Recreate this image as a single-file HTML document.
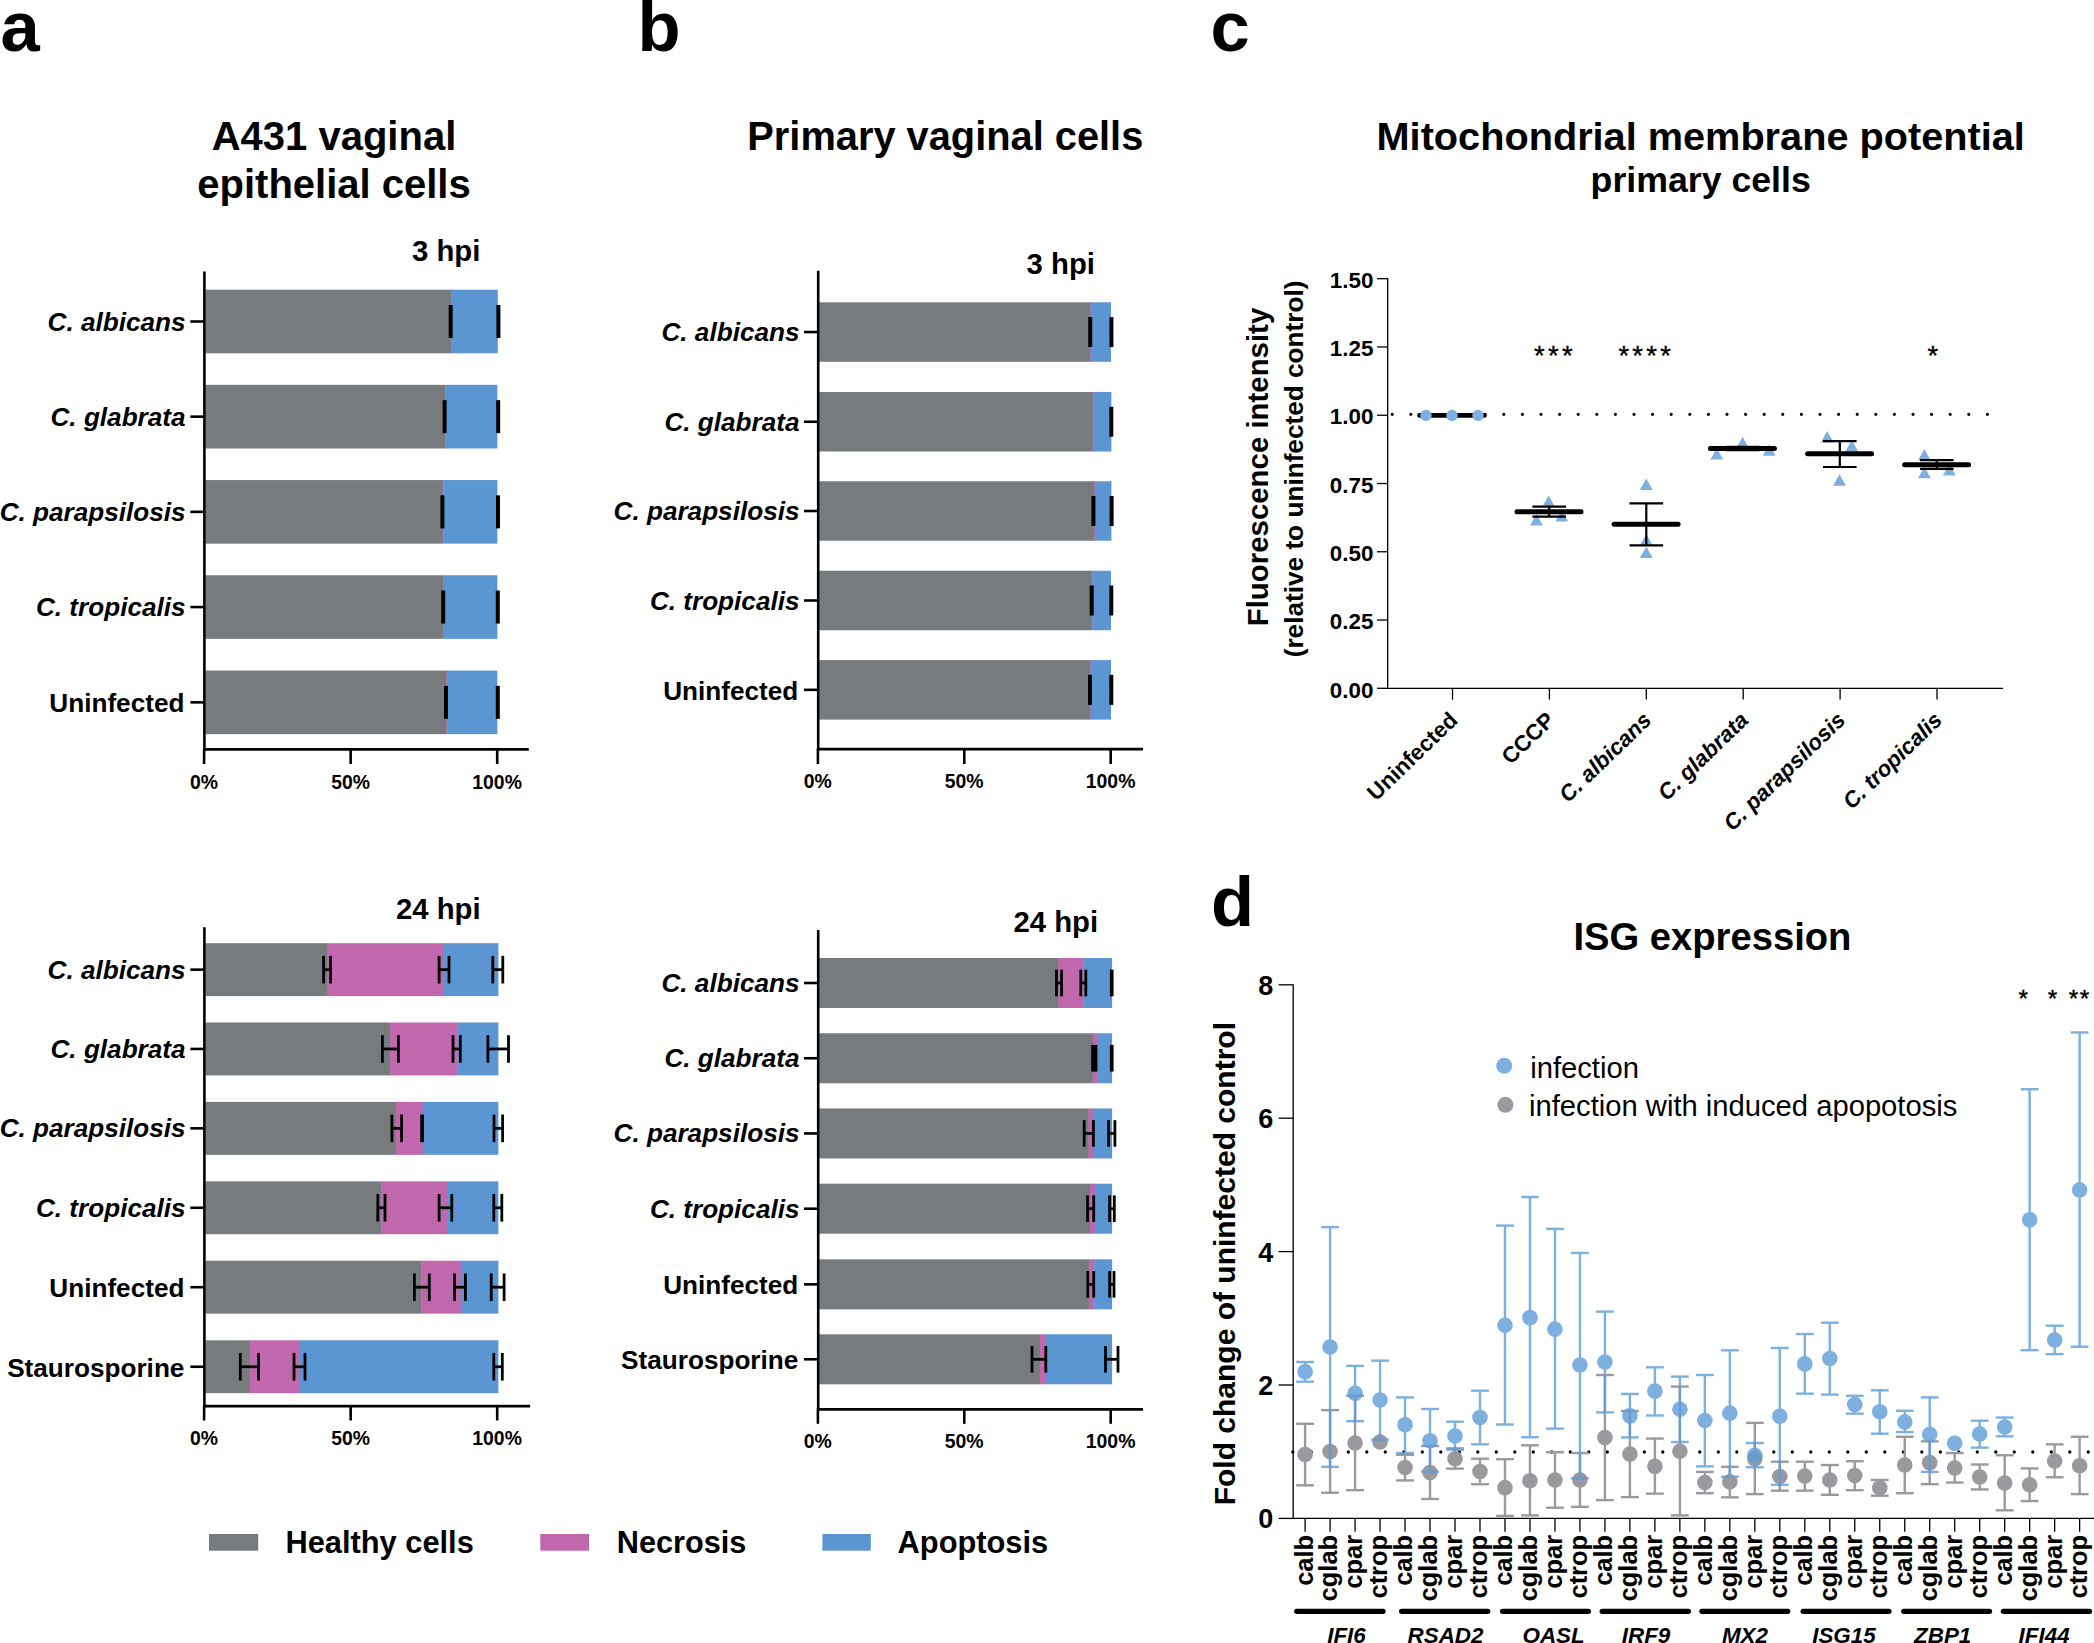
<!DOCTYPE html>
<html lang="en">
<head>
<meta charset="utf-8">
<title>Figure</title>
<style>
html,body{margin:0;padding:0;background:#fff;}
body{width:2094px;height:1643px;overflow:hidden;}
svg{display:block;font-family:"Liberation Sans",Arial,Helvetica,sans-serif;}
</style>
</head>
<body>
<svg width="2094" height="1643" viewBox="0 0 2094 1643">
<rect x="0" y="0" width="2094" height="1643" fill="#ffffff"/>
<rect x="205.3" y="289.7" width="246" height="63.6" fill="#777b7d"/>
<rect x="450.9" y="289.7" width="1" height="63.6" fill="#c167ad"/>
<rect x="451.5" y="289.7" width="46.3" height="63.6" fill="#5b96d2"/>
<line x1="450.7" y1="305" x2="450.7" y2="338" stroke="#000" stroke-width="4" stroke-linecap="butt"/>
<line x1="498.4" y1="305" x2="498.4" y2="338" stroke="#000" stroke-width="4" stroke-linecap="butt"/>
<rect x="205.3" y="384.85" width="240.3" height="63.6" fill="#777b7d"/>
<rect x="445.2" y="384.85" width="1" height="63.6" fill="#c167ad"/>
<rect x="445.8" y="384.85" width="51.6" height="63.6" fill="#5b96d2"/>
<line x1="444.6" y1="400.15" x2="444.6" y2="433.15" stroke="#000" stroke-width="4" stroke-linecap="butt"/>
<line x1="498.2" y1="400.15" x2="498.2" y2="433.15" stroke="#000" stroke-width="4" stroke-linecap="butt"/>
<rect x="205.3" y="480.05" width="237.7" height="63.6" fill="#777b7d"/>
<rect x="442.6" y="480.05" width="1" height="63.6" fill="#c167ad"/>
<rect x="443.2" y="480.05" width="54.2" height="63.6" fill="#5b96d2"/>
<line x1="442.4" y1="495.35" x2="442.4" y2="528.35" stroke="#000" stroke-width="4" stroke-linecap="butt"/>
<line x1="498" y1="495.35" x2="498" y2="528.35" stroke="#000" stroke-width="4" stroke-linecap="butt"/>
<rect x="205.3" y="575.25" width="238.2" height="63.6" fill="#777b7d"/>
<rect x="443.1" y="575.25" width="1" height="63.6" fill="#c167ad"/>
<rect x="443.7" y="575.25" width="53.7" height="63.6" fill="#5b96d2"/>
<line x1="443.2" y1="590.55" x2="443.2" y2="623.55" stroke="#000" stroke-width="4" stroke-linecap="butt"/>
<line x1="497.8" y1="590.55" x2="497.8" y2="623.55" stroke="#000" stroke-width="4" stroke-linecap="butt"/>
<rect x="205.3" y="670.55" width="241.6" height="63.6" fill="#777b7d"/>
<rect x="446.5" y="670.55" width="1" height="63.6" fill="#c167ad"/>
<rect x="447.1" y="670.55" width="50.3" height="63.6" fill="#5b96d2"/>
<line x1="446" y1="685.85" x2="446" y2="718.85" stroke="#000" stroke-width="4" stroke-linecap="butt"/>
<line x1="497.8" y1="685.85" x2="497.8" y2="718.85" stroke="#000" stroke-width="4" stroke-linecap="butt"/>
<line x1="204.4" y1="271.6" x2="204.4" y2="750.7" stroke="#000" stroke-width="2.6" stroke-linecap="butt"/>
<line x1="203.1" y1="749.4" x2="528.8" y2="749.4" stroke="#000" stroke-width="2.7" stroke-linecap="butt"/>
<line x1="204.1" y1="749.4" x2="204.1" y2="764" stroke="#000" stroke-width="2.6" stroke-linecap="butt"/>
<text x="204" y="788.9" font-size="19.4" font-weight="bold" font-style="normal" text-anchor="middle" fill="#000">0%</text>
<line x1="350.65" y1="749.4" x2="350.65" y2="764" stroke="#000" stroke-width="2.6" stroke-linecap="butt"/>
<text x="350.55" y="788.9" font-size="19.4" font-weight="bold" font-style="normal" text-anchor="middle" fill="#000">50%</text>
<line x1="497.2" y1="749.4" x2="497.2" y2="764" stroke="#000" stroke-width="2.6" stroke-linecap="butt"/>
<text x="497.1" y="788.9" font-size="19.4" font-weight="bold" font-style="normal" text-anchor="middle" fill="#000">100%</text>
<line x1="190.3" y1="321.5" x2="204.4" y2="321.5" stroke="#000" stroke-width="2.6" stroke-linecap="butt"/>
<text x="185.6" y="330.5" font-size="26.15" font-weight="bold" font-style="italic" text-anchor="end" fill="#000">C. albicans</text>
<line x1="190.3" y1="416.65" x2="204.4" y2="416.65" stroke="#000" stroke-width="2.6" stroke-linecap="butt"/>
<text x="185.6" y="425.65" font-size="26.15" font-weight="bold" font-style="italic" text-anchor="end" fill="#000">C. glabrata</text>
<line x1="190.3" y1="511.85" x2="204.4" y2="511.85" stroke="#000" stroke-width="2.6" stroke-linecap="butt"/>
<text x="185.6" y="520.85" font-size="26.15" font-weight="bold" font-style="italic" text-anchor="end" fill="#000">C. parapsilosis</text>
<line x1="190.3" y1="607.05" x2="204.4" y2="607.05" stroke="#000" stroke-width="2.6" stroke-linecap="butt"/>
<text x="185.6" y="616.05" font-size="26.15" font-weight="bold" font-style="italic" text-anchor="end" fill="#000">C. tropicalis</text>
<line x1="190.3" y1="702.35" x2="204.4" y2="702.35" stroke="#000" stroke-width="2.6" stroke-linecap="butt"/>
<text x="184.4" y="712.25" font-size="26.15" font-weight="bold" font-style="normal" text-anchor="end" fill="#000">Uninfected</text>
<text x="412" y="261" font-size="29.3" font-weight="bold" font-style="normal" text-anchor="start" fill="#000">3 hpi</text>
<rect x="205.3" y="943.2" width="122.6" height="52.9" fill="#777b7d"/>
<rect x="327.5" y="943.2" width="116.9" height="52.9" fill="#c167ad"/>
<rect x="444" y="943.2" width="54.4" height="52.9" fill="#5b96d2"/>
<line x1="323.6" y1="955.85" x2="323.6" y2="983.45" stroke="#000" stroke-width="2.8" stroke-linecap="butt"/>
<line x1="330.6" y1="955.85" x2="330.6" y2="983.45" stroke="#000" stroke-width="2.8" stroke-linecap="butt"/>
<line x1="323.6" y1="969.65" x2="330.6" y2="969.65" stroke="#000" stroke-width="2.8" stroke-linecap="butt"/>
<line x1="439.1" y1="955.85" x2="439.1" y2="983.45" stroke="#000" stroke-width="2.8" stroke-linecap="butt"/>
<line x1="449" y1="955.85" x2="449" y2="983.45" stroke="#000" stroke-width="2.8" stroke-linecap="butt"/>
<line x1="439.1" y1="969.65" x2="449" y2="969.65" stroke="#000" stroke-width="2.8" stroke-linecap="butt"/>
<line x1="492.8" y1="955.85" x2="492.8" y2="983.45" stroke="#000" stroke-width="2.8" stroke-linecap="butt"/>
<line x1="502.8" y1="955.85" x2="502.8" y2="983.45" stroke="#000" stroke-width="2.8" stroke-linecap="butt"/>
<line x1="492.8" y1="969.65" x2="502.8" y2="969.65" stroke="#000" stroke-width="2.8" stroke-linecap="butt"/>
<rect x="205.3" y="1022.5" width="185.3" height="52.9" fill="#777b7d"/>
<rect x="390.2" y="1022.5" width="67.4" height="52.9" fill="#c167ad"/>
<rect x="457.2" y="1022.5" width="41.2" height="52.9" fill="#5b96d2"/>
<line x1="382.4" y1="1035.15" x2="382.4" y2="1062.75" stroke="#000" stroke-width="2.8" stroke-linecap="butt"/>
<line x1="398.4" y1="1035.15" x2="398.4" y2="1062.75" stroke="#000" stroke-width="2.8" stroke-linecap="butt"/>
<line x1="382.4" y1="1048.95" x2="398.4" y2="1048.95" stroke="#000" stroke-width="2.8" stroke-linecap="butt"/>
<line x1="453" y1="1035.15" x2="453" y2="1062.75" stroke="#000" stroke-width="2.8" stroke-linecap="butt"/>
<line x1="460.3" y1="1035.15" x2="460.3" y2="1062.75" stroke="#000" stroke-width="2.8" stroke-linecap="butt"/>
<line x1="453" y1="1048.95" x2="460.3" y2="1048.95" stroke="#000" stroke-width="2.8" stroke-linecap="butt"/>
<line x1="487.9" y1="1035.15" x2="487.9" y2="1062.75" stroke="#000" stroke-width="2.8" stroke-linecap="butt"/>
<line x1="508.5" y1="1035.15" x2="508.5" y2="1062.75" stroke="#000" stroke-width="2.8" stroke-linecap="butt"/>
<line x1="487.9" y1="1048.95" x2="508.5" y2="1048.95" stroke="#000" stroke-width="2.8" stroke-linecap="butt"/>
<rect x="205.3" y="1101.9" width="190.9" height="52.9" fill="#777b7d"/>
<rect x="395.8" y="1101.9" width="27.2" height="52.9" fill="#c167ad"/>
<rect x="422.6" y="1101.9" width="75.8" height="52.9" fill="#5b96d2"/>
<line x1="391.9" y1="1114.55" x2="391.9" y2="1142.15" stroke="#000" stroke-width="2.8" stroke-linecap="butt"/>
<line x1="401.6" y1="1114.55" x2="401.6" y2="1142.15" stroke="#000" stroke-width="2.8" stroke-linecap="butt"/>
<line x1="391.9" y1="1128.35" x2="401.6" y2="1128.35" stroke="#000" stroke-width="2.8" stroke-linecap="butt"/>
<line x1="422.1" y1="1114.55" x2="422.1" y2="1142.15" stroke="#000" stroke-width="3.7" stroke-linecap="butt"/>
<line x1="494" y1="1114.55" x2="494" y2="1142.15" stroke="#000" stroke-width="2.8" stroke-linecap="butt"/>
<line x1="502.6" y1="1114.55" x2="502.6" y2="1142.15" stroke="#000" stroke-width="2.8" stroke-linecap="butt"/>
<line x1="494" y1="1128.35" x2="502.6" y2="1128.35" stroke="#000" stroke-width="2.8" stroke-linecap="butt"/>
<rect x="205.3" y="1181.35" width="176.2" height="52.9" fill="#777b7d"/>
<rect x="381.1" y="1181.35" width="66.2" height="52.9" fill="#c167ad"/>
<rect x="446.9" y="1181.35" width="51.5" height="52.9" fill="#5b96d2"/>
<line x1="377.8" y1="1194" x2="377.8" y2="1221.6" stroke="#000" stroke-width="2.8" stroke-linecap="butt"/>
<line x1="385" y1="1194" x2="385" y2="1221.6" stroke="#000" stroke-width="2.8" stroke-linecap="butt"/>
<line x1="377.8" y1="1207.8" x2="385" y2="1207.8" stroke="#000" stroke-width="2.8" stroke-linecap="butt"/>
<line x1="439.1" y1="1194" x2="439.1" y2="1221.6" stroke="#000" stroke-width="2.8" stroke-linecap="butt"/>
<line x1="451.8" y1="1194" x2="451.8" y2="1221.6" stroke="#000" stroke-width="2.8" stroke-linecap="butt"/>
<line x1="439.1" y1="1207.8" x2="451.8" y2="1207.8" stroke="#000" stroke-width="2.8" stroke-linecap="butt"/>
<line x1="493.8" y1="1194" x2="493.8" y2="1221.6" stroke="#000" stroke-width="2.8" stroke-linecap="butt"/>
<line x1="501.8" y1="1194" x2="501.8" y2="1221.6" stroke="#000" stroke-width="2.8" stroke-linecap="butt"/>
<line x1="493.8" y1="1207.8" x2="501.8" y2="1207.8" stroke="#000" stroke-width="2.8" stroke-linecap="butt"/>
<rect x="205.3" y="1260.75" width="216.2" height="52.9" fill="#777b7d"/>
<rect x="421.1" y="1260.75" width="40.1" height="52.9" fill="#c167ad"/>
<rect x="460.8" y="1260.75" width="37.6" height="52.9" fill="#5b96d2"/>
<line x1="414.4" y1="1273.4" x2="414.4" y2="1301" stroke="#000" stroke-width="2.8" stroke-linecap="butt"/>
<line x1="429.3" y1="1273.4" x2="429.3" y2="1301" stroke="#000" stroke-width="2.8" stroke-linecap="butt"/>
<line x1="414.4" y1="1287.2" x2="429.3" y2="1287.2" stroke="#000" stroke-width="2.8" stroke-linecap="butt"/>
<line x1="454.6" y1="1273.4" x2="454.6" y2="1301" stroke="#000" stroke-width="2.8" stroke-linecap="butt"/>
<line x1="465.4" y1="1273.4" x2="465.4" y2="1301" stroke="#000" stroke-width="2.8" stroke-linecap="butt"/>
<line x1="454.6" y1="1287.2" x2="465.4" y2="1287.2" stroke="#000" stroke-width="2.8" stroke-linecap="butt"/>
<line x1="491.2" y1="1273.4" x2="491.2" y2="1301" stroke="#000" stroke-width="2.8" stroke-linecap="butt"/>
<line x1="504.1" y1="1273.4" x2="504.1" y2="1301" stroke="#000" stroke-width="2.8" stroke-linecap="butt"/>
<line x1="491.2" y1="1287.2" x2="504.1" y2="1287.2" stroke="#000" stroke-width="2.8" stroke-linecap="butt"/>
<rect x="205.3" y="1340.3" width="44.7" height="52.9" fill="#777b7d"/>
<rect x="249.6" y="1340.3" width="50.7" height="52.9" fill="#c167ad"/>
<rect x="299.9" y="1340.3" width="198.5" height="52.9" fill="#5b96d2"/>
<line x1="240.3" y1="1352.95" x2="240.3" y2="1380.55" stroke="#000" stroke-width="2.8" stroke-linecap="butt"/>
<line x1="258.6" y1="1352.95" x2="258.6" y2="1380.55" stroke="#000" stroke-width="2.8" stroke-linecap="butt"/>
<line x1="240.3" y1="1366.75" x2="258.6" y2="1366.75" stroke="#000" stroke-width="2.8" stroke-linecap="butt"/>
<line x1="294" y1="1352.95" x2="294" y2="1380.55" stroke="#000" stroke-width="2.8" stroke-linecap="butt"/>
<line x1="305" y1="1352.95" x2="305" y2="1380.55" stroke="#000" stroke-width="2.8" stroke-linecap="butt"/>
<line x1="294" y1="1366.75" x2="305" y2="1366.75" stroke="#000" stroke-width="2.8" stroke-linecap="butt"/>
<line x1="493.8" y1="1352.95" x2="493.8" y2="1380.55" stroke="#000" stroke-width="2.8" stroke-linecap="butt"/>
<line x1="502.3" y1="1352.95" x2="502.3" y2="1380.55" stroke="#000" stroke-width="2.8" stroke-linecap="butt"/>
<line x1="493.8" y1="1366.75" x2="502.3" y2="1366.75" stroke="#000" stroke-width="2.8" stroke-linecap="butt"/>
<line x1="204.4" y1="927.2" x2="204.4" y2="1407.5" stroke="#000" stroke-width="2.6" stroke-linecap="butt"/>
<line x1="203.1" y1="1406.2" x2="530.1" y2="1406.2" stroke="#000" stroke-width="2.7" stroke-linecap="butt"/>
<line x1="204.1" y1="1406.2" x2="204.1" y2="1420.5" stroke="#000" stroke-width="2.6" stroke-linecap="butt"/>
<text x="204" y="1444.9" font-size="19.4" font-weight="bold" font-style="normal" text-anchor="middle" fill="#000">0%</text>
<line x1="350.65" y1="1406.2" x2="350.65" y2="1420.5" stroke="#000" stroke-width="2.6" stroke-linecap="butt"/>
<text x="350.55" y="1444.9" font-size="19.4" font-weight="bold" font-style="normal" text-anchor="middle" fill="#000">50%</text>
<line x1="497.2" y1="1406.2" x2="497.2" y2="1420.5" stroke="#000" stroke-width="2.6" stroke-linecap="butt"/>
<text x="497.1" y="1444.9" font-size="19.4" font-weight="bold" font-style="normal" text-anchor="middle" fill="#000">100%</text>
<line x1="190.3" y1="969.65" x2="204.4" y2="969.65" stroke="#000" stroke-width="2.6" stroke-linecap="butt"/>
<text x="185.6" y="978.65" font-size="26.15" font-weight="bold" font-style="italic" text-anchor="end" fill="#000">C. albicans</text>
<line x1="190.3" y1="1048.95" x2="204.4" y2="1048.95" stroke="#000" stroke-width="2.6" stroke-linecap="butt"/>
<text x="185.6" y="1057.95" font-size="26.15" font-weight="bold" font-style="italic" text-anchor="end" fill="#000">C. glabrata</text>
<line x1="190.3" y1="1128.35" x2="204.4" y2="1128.35" stroke="#000" stroke-width="2.6" stroke-linecap="butt"/>
<text x="185.6" y="1137.35" font-size="26.15" font-weight="bold" font-style="italic" text-anchor="end" fill="#000">C. parapsilosis</text>
<line x1="190.3" y1="1207.8" x2="204.4" y2="1207.8" stroke="#000" stroke-width="2.6" stroke-linecap="butt"/>
<text x="185.6" y="1216.8" font-size="26.15" font-weight="bold" font-style="italic" text-anchor="end" fill="#000">C. tropicalis</text>
<line x1="190.3" y1="1287.2" x2="204.4" y2="1287.2" stroke="#000" stroke-width="2.6" stroke-linecap="butt"/>
<text x="184.4" y="1297.1" font-size="26.15" font-weight="bold" font-style="normal" text-anchor="end" fill="#000">Uninfected</text>
<line x1="190.3" y1="1366.75" x2="204.4" y2="1366.75" stroke="#000" stroke-width="2.6" stroke-linecap="butt"/>
<text x="184.4" y="1376.65" font-size="26.15" font-weight="bold" font-style="normal" text-anchor="end" fill="#000">Staurosporine</text>
<text x="396" y="919" font-size="29.3" font-weight="bold" font-style="normal" text-anchor="start" fill="#000">24 hpi</text>
<rect x="819.1" y="302.3" width="271.3" height="59.5" fill="#777b7d"/>
<rect x="1090" y="302.3" width="1.1" height="59.5" fill="#c167ad"/>
<rect x="1090.7" y="302.3" width="20.3" height="59.5" fill="#5b96d2"/>
<line x1="1090.2" y1="317.05" x2="1090.2" y2="347.05" stroke="#000" stroke-width="4" stroke-linecap="butt"/>
<line x1="1111.4" y1="317.05" x2="1111.4" y2="347.05" stroke="#000" stroke-width="4" stroke-linecap="butt"/>
<rect x="819.1" y="392" width="274.1" height="59.5" fill="#777b7d"/>
<rect x="1092.8" y="392" width="1.1" height="59.5" fill="#c167ad"/>
<rect x="1093.5" y="392" width="17.9" height="59.5" fill="#5b96d2"/>
<line x1="1111.3" y1="406.75" x2="1111.3" y2="436.75" stroke="#000" stroke-width="4" stroke-linecap="butt"/>
<rect x="819.1" y="481.25" width="275.5" height="59.5" fill="#777b7d"/>
<rect x="1094.2" y="481.25" width="1.1" height="59.5" fill="#c167ad"/>
<rect x="1094.9" y="481.25" width="16.5" height="59.5" fill="#5b96d2"/>
<line x1="1093.4" y1="496" x2="1093.4" y2="526" stroke="#000" stroke-width="4" stroke-linecap="butt"/>
<line x1="1111.6" y1="496" x2="1111.6" y2="526" stroke="#000" stroke-width="4" stroke-linecap="butt"/>
<rect x="819.1" y="570.75" width="273" height="59.5" fill="#777b7d"/>
<rect x="1091.7" y="570.75" width="1.1" height="59.5" fill="#c167ad"/>
<rect x="1092.4" y="570.75" width="18.6" height="59.5" fill="#5b96d2"/>
<line x1="1091.7" y1="585.5" x2="1091.7" y2="615.5" stroke="#000" stroke-width="4" stroke-linecap="butt"/>
<line x1="1111.3" y1="585.5" x2="1111.3" y2="615.5" stroke="#000" stroke-width="4" stroke-linecap="butt"/>
<rect x="819.1" y="660.1" width="271.2" height="59.5" fill="#777b7d"/>
<rect x="1089.9" y="660.1" width="1.1" height="59.5" fill="#c167ad"/>
<rect x="1090.6" y="660.1" width="20.4" height="59.5" fill="#5b96d2"/>
<line x1="1090" y1="674.85" x2="1090" y2="704.85" stroke="#000" stroke-width="4" stroke-linecap="butt"/>
<line x1="1111.3" y1="674.85" x2="1111.3" y2="704.85" stroke="#000" stroke-width="4" stroke-linecap="butt"/>
<line x1="818.2" y1="270.8" x2="818.2" y2="750.5" stroke="#000" stroke-width="2.6" stroke-linecap="butt"/>
<line x1="816.9" y1="749.2" x2="1143" y2="749.2" stroke="#000" stroke-width="2.7" stroke-linecap="butt"/>
<line x1="817.9" y1="749.2" x2="817.9" y2="764" stroke="#000" stroke-width="2.6" stroke-linecap="butt"/>
<text x="817.8" y="787.9" font-size="19.4" font-weight="bold" font-style="normal" text-anchor="middle" fill="#000">0%</text>
<line x1="964.3" y1="749.2" x2="964.3" y2="764" stroke="#000" stroke-width="2.6" stroke-linecap="butt"/>
<text x="964.2" y="787.9" font-size="19.4" font-weight="bold" font-style="normal" text-anchor="middle" fill="#000">50%</text>
<line x1="1110.7" y1="749.2" x2="1110.7" y2="764" stroke="#000" stroke-width="2.6" stroke-linecap="butt"/>
<text x="1110.6" y="787.9" font-size="19.4" font-weight="bold" font-style="normal" text-anchor="middle" fill="#000">100%</text>
<line x1="804" y1="332.05" x2="818.2" y2="332.05" stroke="#000" stroke-width="2.6" stroke-linecap="butt"/>
<text x="799.5" y="341.05" font-size="26.15" font-weight="bold" font-style="italic" text-anchor="end" fill="#000">C. albicans</text>
<line x1="804" y1="421.75" x2="818.2" y2="421.75" stroke="#000" stroke-width="2.6" stroke-linecap="butt"/>
<text x="799.5" y="430.75" font-size="26.15" font-weight="bold" font-style="italic" text-anchor="end" fill="#000">C. glabrata</text>
<line x1="804" y1="511" x2="818.2" y2="511" stroke="#000" stroke-width="2.6" stroke-linecap="butt"/>
<text x="799.5" y="520" font-size="26.15" font-weight="bold" font-style="italic" text-anchor="end" fill="#000">C. parapsilosis</text>
<line x1="804" y1="600.5" x2="818.2" y2="600.5" stroke="#000" stroke-width="2.6" stroke-linecap="butt"/>
<text x="799.5" y="609.5" font-size="26.15" font-weight="bold" font-style="italic" text-anchor="end" fill="#000">C. tropicalis</text>
<line x1="804" y1="689.85" x2="818.2" y2="689.85" stroke="#000" stroke-width="2.6" stroke-linecap="butt"/>
<text x="798.3" y="699.75" font-size="26.15" font-weight="bold" font-style="normal" text-anchor="end" fill="#000">Uninfected</text>
<text x="1026.6" y="274.2" font-size="29.3" font-weight="bold" font-style="normal" text-anchor="start" fill="#000">3 hpi</text>
<rect x="819.1" y="958" width="239.8" height="50" fill="#777b7d"/>
<rect x="1058.5" y="958" width="25.3" height="50" fill="#c167ad"/>
<rect x="1083.4" y="958" width="28.7" height="50" fill="#5b96d2"/>
<line x1="1056.5" y1="969.7" x2="1056.5" y2="996.3" stroke="#000" stroke-width="2.8" stroke-linecap="butt"/>
<line x1="1061.6" y1="969.7" x2="1061.6" y2="996.3" stroke="#000" stroke-width="2.8" stroke-linecap="butt"/>
<line x1="1056.5" y1="983" x2="1061.6" y2="983" stroke="#000" stroke-width="2.8" stroke-linecap="butt"/>
<line x1="1080.8" y1="969.7" x2="1080.8" y2="996.3" stroke="#000" stroke-width="2.8" stroke-linecap="butt"/>
<line x1="1085.8" y1="969.7" x2="1085.8" y2="996.3" stroke="#000" stroke-width="2.8" stroke-linecap="butt"/>
<line x1="1080.8" y1="983" x2="1085.8" y2="983" stroke="#000" stroke-width="2.8" stroke-linecap="butt"/>
<line x1="1111.7" y1="969.7" x2="1111.7" y2="996.3" stroke="#000" stroke-width="3.7" stroke-linecap="butt"/>
<rect x="819.1" y="1033.25" width="274.1" height="50" fill="#777b7d"/>
<rect x="1092.8" y="1033.25" width="4.7" height="50" fill="#c167ad"/>
<rect x="1097.1" y="1033.25" width="15" height="50" fill="#5b96d2"/>
<line x1="1093" y1="1044.95" x2="1093" y2="1071.55" stroke="#000" stroke-width="3.7" stroke-linecap="butt"/>
<line x1="1095.6" y1="1044.95" x2="1095.6" y2="1071.55" stroke="#000" stroke-width="3.7" stroke-linecap="butt"/>
<line x1="1111.7" y1="1044.95" x2="1111.7" y2="1071.55" stroke="#000" stroke-width="3.7" stroke-linecap="butt"/>
<rect x="819.1" y="1108.45" width="269.8" height="50" fill="#777b7d"/>
<rect x="1088.5" y="1108.45" width="4.7" height="50" fill="#c167ad"/>
<rect x="1092.8" y="1108.45" width="19.3" height="50" fill="#5b96d2"/>
<line x1="1084.2" y1="1120.15" x2="1084.2" y2="1146.75" stroke="#000" stroke-width="2.8" stroke-linecap="butt"/>
<line x1="1093.4" y1="1120.15" x2="1093.4" y2="1146.75" stroke="#000" stroke-width="2.8" stroke-linecap="butt"/>
<line x1="1084.2" y1="1133.45" x2="1093.4" y2="1133.45" stroke="#000" stroke-width="2.8" stroke-linecap="butt"/>
<line x1="1108.6" y1="1120.15" x2="1108.6" y2="1146.75" stroke="#000" stroke-width="2.8" stroke-linecap="butt"/>
<line x1="1114.9" y1="1120.15" x2="1114.9" y2="1146.75" stroke="#000" stroke-width="2.8" stroke-linecap="butt"/>
<line x1="1108.6" y1="1133.45" x2="1114.9" y2="1133.45" stroke="#000" stroke-width="2.8" stroke-linecap="butt"/>
<rect x="819.1" y="1183.7" width="271.3" height="50" fill="#777b7d"/>
<rect x="1090" y="1183.7" width="5.2" height="50" fill="#c167ad"/>
<rect x="1094.8" y="1183.7" width="17.3" height="50" fill="#5b96d2"/>
<line x1="1087.6" y1="1195.4" x2="1087.6" y2="1222" stroke="#000" stroke-width="2.8" stroke-linecap="butt"/>
<line x1="1093.7" y1="1195.4" x2="1093.7" y2="1222" stroke="#000" stroke-width="2.8" stroke-linecap="butt"/>
<line x1="1087.6" y1="1208.7" x2="1093.7" y2="1208.7" stroke="#000" stroke-width="2.8" stroke-linecap="butt"/>
<line x1="1109.6" y1="1195.4" x2="1109.6" y2="1222" stroke="#000" stroke-width="2.8" stroke-linecap="butt"/>
<line x1="1114.3" y1="1195.4" x2="1114.3" y2="1222" stroke="#000" stroke-width="2.8" stroke-linecap="butt"/>
<line x1="1109.6" y1="1208.7" x2="1114.3" y2="1208.7" stroke="#000" stroke-width="2.8" stroke-linecap="butt"/>
<rect x="819.1" y="1259.35" width="270.7" height="50" fill="#777b7d"/>
<rect x="1089.4" y="1259.35" width="5.3" height="50" fill="#c167ad"/>
<rect x="1094.3" y="1259.35" width="17.8" height="50" fill="#5b96d2"/>
<line x1="1087.8" y1="1271.05" x2="1087.8" y2="1297.65" stroke="#000" stroke-width="2.8" stroke-linecap="butt"/>
<line x1="1093.7" y1="1271.05" x2="1093.7" y2="1297.65" stroke="#000" stroke-width="2.8" stroke-linecap="butt"/>
<line x1="1087.8" y1="1284.35" x2="1093.7" y2="1284.35" stroke="#000" stroke-width="2.8" stroke-linecap="butt"/>
<line x1="1109.6" y1="1271.05" x2="1109.6" y2="1297.65" stroke="#000" stroke-width="2.8" stroke-linecap="butt"/>
<line x1="1114" y1="1271.05" x2="1114" y2="1297.65" stroke="#000" stroke-width="2.8" stroke-linecap="butt"/>
<line x1="1109.6" y1="1284.35" x2="1114" y2="1284.35" stroke="#000" stroke-width="2.8" stroke-linecap="butt"/>
<rect x="819.1" y="1334.3" width="221.1" height="50" fill="#777b7d"/>
<rect x="1039.8" y="1334.3" width="6.2" height="50" fill="#c167ad"/>
<rect x="1045.6" y="1334.3" width="66.5" height="50" fill="#5b96d2"/>
<line x1="1032" y1="1346" x2="1032" y2="1372.6" stroke="#000" stroke-width="2.8" stroke-linecap="butt"/>
<line x1="1045.8" y1="1346" x2="1045.8" y2="1372.6" stroke="#000" stroke-width="2.8" stroke-linecap="butt"/>
<line x1="1032" y1="1359.3" x2="1045.8" y2="1359.3" stroke="#000" stroke-width="2.8" stroke-linecap="butt"/>
<line x1="1105.5" y1="1346" x2="1105.5" y2="1372.6" stroke="#000" stroke-width="2.8" stroke-linecap="butt"/>
<line x1="1118" y1="1346" x2="1118" y2="1372.6" stroke="#000" stroke-width="2.8" stroke-linecap="butt"/>
<line x1="1105.5" y1="1359.3" x2="1118" y2="1359.3" stroke="#000" stroke-width="2.8" stroke-linecap="butt"/>
<line x1="818.2" y1="930" x2="818.2" y2="1410.6" stroke="#000" stroke-width="2.6" stroke-linecap="butt"/>
<line x1="816.9" y1="1409.3" x2="1143" y2="1409.3" stroke="#000" stroke-width="2.7" stroke-linecap="butt"/>
<line x1="817.9" y1="1409.3" x2="817.9" y2="1423.8" stroke="#000" stroke-width="2.6" stroke-linecap="butt"/>
<text x="817.8" y="1447.9" font-size="19.4" font-weight="bold" font-style="normal" text-anchor="middle" fill="#000">0%</text>
<line x1="964.3" y1="1409.3" x2="964.3" y2="1423.8" stroke="#000" stroke-width="2.6" stroke-linecap="butt"/>
<text x="964.2" y="1447.9" font-size="19.4" font-weight="bold" font-style="normal" text-anchor="middle" fill="#000">50%</text>
<line x1="1110.7" y1="1409.3" x2="1110.7" y2="1423.8" stroke="#000" stroke-width="2.6" stroke-linecap="butt"/>
<text x="1110.6" y="1447.9" font-size="19.4" font-weight="bold" font-style="normal" text-anchor="middle" fill="#000">100%</text>
<line x1="804" y1="983" x2="818.2" y2="983" stroke="#000" stroke-width="2.6" stroke-linecap="butt"/>
<text x="799.5" y="992" font-size="26.15" font-weight="bold" font-style="italic" text-anchor="end" fill="#000">C. albicans</text>
<line x1="804" y1="1058.25" x2="818.2" y2="1058.25" stroke="#000" stroke-width="2.6" stroke-linecap="butt"/>
<text x="799.5" y="1067.25" font-size="26.15" font-weight="bold" font-style="italic" text-anchor="end" fill="#000">C. glabrata</text>
<line x1="804" y1="1133.45" x2="818.2" y2="1133.45" stroke="#000" stroke-width="2.6" stroke-linecap="butt"/>
<text x="799.5" y="1142.45" font-size="26.15" font-weight="bold" font-style="italic" text-anchor="end" fill="#000">C. parapsilosis</text>
<line x1="804" y1="1208.7" x2="818.2" y2="1208.7" stroke="#000" stroke-width="2.6" stroke-linecap="butt"/>
<text x="799.5" y="1217.7" font-size="26.15" font-weight="bold" font-style="italic" text-anchor="end" fill="#000">C. tropicalis</text>
<line x1="804" y1="1284.35" x2="818.2" y2="1284.35" stroke="#000" stroke-width="2.6" stroke-linecap="butt"/>
<text x="798.3" y="1294.25" font-size="26.15" font-weight="bold" font-style="normal" text-anchor="end" fill="#000">Uninfected</text>
<line x1="804" y1="1359.3" x2="818.2" y2="1359.3" stroke="#000" stroke-width="2.6" stroke-linecap="butt"/>
<text x="798.3" y="1369.2" font-size="26.15" font-weight="bold" font-style="normal" text-anchor="end" fill="#000">Staurosporine</text>
<text x="1013.5" y="931.6" font-size="29.3" font-weight="bold" font-style="normal" text-anchor="start" fill="#000">24 hpi</text>
<text x="0.6" y="51.2" font-size="70.5" font-weight="bold" font-style="normal" text-anchor="start" fill="#000">a</text>
<text x="637.6" y="51.2" font-size="70.5" font-weight="bold" font-style="normal" text-anchor="start" fill="#000">b</text>
<text x="1210.4" y="51.2" font-size="70.5" font-weight="bold" font-style="normal" text-anchor="start" fill="#000">c</text>
<text x="1211" y="926.4" font-size="70.5" font-weight="bold" font-style="normal" text-anchor="start" fill="#000">d</text>
<text x="334" y="150" font-size="40" font-weight="bold" font-style="normal" text-anchor="middle" fill="#000">A431 vaginal</text>
<text x="334" y="198" font-size="40" font-weight="bold" font-style="normal" text-anchor="middle" fill="#000">epithelial cells</text>
<text x="945.3" y="149.8" font-size="39.8" font-weight="bold" font-style="normal" text-anchor="middle" fill="#000">Primary vaginal cells</text>
<text x="1700.7" y="149.6" font-size="39.7" font-weight="bold" font-style="normal" text-anchor="middle" fill="#000">Mitochondrial membrane potential</text>
<text x="1700.7" y="192.2" font-size="35.7" font-weight="bold" font-style="normal" text-anchor="middle" fill="#000">primary cells</text>
<text x="1712.4" y="949.6" font-size="38.2" font-weight="bold" font-style="normal" text-anchor="middle" fill="#000">ISG expression</text>
<rect x="209" y="1534" width="49.2" height="16.7" fill="#777b7d"/>
<text x="285.5" y="1552.7" font-size="30.8" font-weight="bold" font-style="normal" text-anchor="start" fill="#000">Healthy cells</text>
<rect x="540.3" y="1534" width="48.7" height="16.7" fill="#c167ad"/>
<text x="616.8" y="1552.7" font-size="30.7" font-weight="bold" font-style="normal" text-anchor="start" fill="#000">Necrosis</text>
<rect x="822.4" y="1534" width="48.4" height="16.7" fill="#5b96d2"/>
<text x="897.6" y="1552.7" font-size="30.8" font-weight="bold" font-style="normal" text-anchor="start" fill="#000">Apoptosis</text>
<line x1="1392.2" y1="414.3" x2="1990" y2="414.3" stroke="#000" stroke-width="3.2" stroke-linecap="round" stroke-dasharray="0 18.6"/>
<line x1="1387.7" y1="278.2" x2="1387.7" y2="688.9" stroke="#000" stroke-width="1.3" stroke-linecap="butt"/>
<line x1="1387.1" y1="688.3" x2="2003" y2="688.3" stroke="#000" stroke-width="1.3" stroke-linecap="butt"/>
<line x1="1377" y1="688.3" x2="1387.7" y2="688.3" stroke="#000" stroke-width="1.3" stroke-linecap="butt"/>
<text x="1373.4" y="697.5" font-size="22.4" font-weight="bold" font-style="normal" text-anchor="end" fill="#000">0.00</text>
<line x1="1377" y1="620.03" x2="1387.7" y2="620.03" stroke="#000" stroke-width="1.3" stroke-linecap="butt"/>
<text x="1373.4" y="629.23" font-size="22.4" font-weight="bold" font-style="normal" text-anchor="end" fill="#000">0.25</text>
<line x1="1377" y1="551.76" x2="1387.7" y2="551.76" stroke="#000" stroke-width="1.3" stroke-linecap="butt"/>
<text x="1373.4" y="560.97" font-size="22.4" font-weight="bold" font-style="normal" text-anchor="end" fill="#000">0.50</text>
<line x1="1377" y1="483.5" x2="1387.7" y2="483.5" stroke="#000" stroke-width="1.3" stroke-linecap="butt"/>
<text x="1373.4" y="492.7" font-size="22.4" font-weight="bold" font-style="normal" text-anchor="end" fill="#000">0.75</text>
<line x1="1377" y1="415.23" x2="1387.7" y2="415.23" stroke="#000" stroke-width="1.3" stroke-linecap="butt"/>
<text x="1373.4" y="424.43" font-size="22.4" font-weight="bold" font-style="normal" text-anchor="end" fill="#000">1.00</text>
<line x1="1377" y1="346.96" x2="1387.7" y2="346.96" stroke="#000" stroke-width="1.3" stroke-linecap="butt"/>
<text x="1373.4" y="356.16" font-size="22.4" font-weight="bold" font-style="normal" text-anchor="end" fill="#000">1.25</text>
<line x1="1377" y1="278.69" x2="1387.7" y2="278.69" stroke="#000" stroke-width="1.3" stroke-linecap="butt"/>
<text x="1373.4" y="287.89" font-size="22.4" font-weight="bold" font-style="normal" text-anchor="end" fill="#000">1.50</text>
<line x1="1452.5" y1="688.3" x2="1452.5" y2="699.6" stroke="#000" stroke-width="1.3" stroke-linecap="butt"/>
<text x="1459" y="721.7" font-size="22.3" font-weight="bold" font-style="normal" text-anchor="end" fill="#000" transform="rotate(-44 1459 721.7)">Uninfected</text>
<line x1="1549.4" y1="688.3" x2="1549.4" y2="699.6" stroke="#000" stroke-width="1.3" stroke-linecap="butt"/>
<text x="1555.9" y="721.7" font-size="22.3" font-weight="bold" font-style="normal" text-anchor="end" fill="#000" transform="rotate(-44 1555.9 721.7)">CCCP</text>
<line x1="1646.3" y1="688.3" x2="1646.3" y2="699.6" stroke="#000" stroke-width="1.3" stroke-linecap="butt"/>
<text x="1652.8" y="721.7" font-size="22.3" font-weight="bold" font-style="italic" text-anchor="end" fill="#000" transform="rotate(-44 1652.8 721.7)">C. albicans</text>
<line x1="1743.2" y1="688.3" x2="1743.2" y2="699.6" stroke="#000" stroke-width="1.3" stroke-linecap="butt"/>
<text x="1749.7" y="721.7" font-size="22.3" font-weight="bold" font-style="italic" text-anchor="end" fill="#000" transform="rotate(-44 1749.7 721.7)">C. glabrata</text>
<line x1="1840.1" y1="688.3" x2="1840.1" y2="699.6" stroke="#000" stroke-width="1.3" stroke-linecap="butt"/>
<text x="1846.6" y="721.7" font-size="22.3" font-weight="bold" font-style="italic" text-anchor="end" fill="#000" transform="rotate(-44 1846.6 721.7)">C. parapsilosis</text>
<line x1="1937" y1="688.3" x2="1937" y2="699.6" stroke="#000" stroke-width="1.3" stroke-linecap="butt"/>
<text x="1943.5" y="721.7" font-size="22.3" font-weight="bold" font-style="italic" text-anchor="end" fill="#000" transform="rotate(-44 1943.5 721.7)">C. tropicalis</text>
<text x="0" y="0" font-size="29.4" font-weight="bold" font-style="normal" text-anchor="middle" fill="#000" transform="translate(1268.4 467) rotate(-90)">Fluorescence intensity</text>
<text x="0" y="0" font-size="26.2" font-weight="bold" font-style="normal" text-anchor="middle" fill="#000" transform="translate(1302.8 468.9) rotate(-90)">(relative to uninfected control)</text>
<text x="1555" y="364.6" font-size="27.6" font-weight="normal" font-style="normal" text-anchor="middle" fill="#000" letter-spacing="3.2" stroke="#000" stroke-width="0.35">***</text>
<text x="1646.3" y="364.6" font-size="27.6" font-weight="normal" font-style="normal" text-anchor="middle" fill="#000" letter-spacing="3.2" stroke="#000" stroke-width="0.35">****</text>
<text x="1934.4" y="364.6" font-size="27.6" font-weight="normal" font-style="normal" text-anchor="middle" fill="#000" letter-spacing="3.2" stroke="#000" stroke-width="0.35">*</text>
<line x1="1419.5" y1="415.4" x2="1484.3" y2="415.4" stroke="#000" stroke-width="4.8" stroke-linecap="round"/>
<circle cx="1426" cy="415.4" r="5.7" fill="#7db0e0"/>
<circle cx="1452" cy="415.4" r="5.7" fill="#7db0e0"/>
<circle cx="1478" cy="415.4" r="5.7" fill="#7db0e0"/>
<path d="M1548.6 495.5 L1555 507.02 L1542.2 507.02 Z" fill="#7db0e0"/>
<path d="M1536.5 514.1 L1542.9 525.62 L1530.1 525.62 Z" fill="#7db0e0"/>
<path d="M1561.7 509.9 L1568.1 521.42 L1555.3 521.42 Z" fill="#7db0e0"/>
<line x1="1549.2" y1="506.6" x2="1549.2" y2="516.7" stroke="#000" stroke-width="2.2" stroke-linecap="butt"/>
<line x1="1532.4" y1="506.6" x2="1566" y2="506.6" stroke="#000" stroke-width="2.2" stroke-linecap="butt"/>
<line x1="1532.4" y1="516.7" x2="1566" y2="516.7" stroke="#000" stroke-width="2.2" stroke-linecap="butt"/>
<line x1="1517" y1="511.7" x2="1581" y2="511.7" stroke="#000" stroke-width="5" stroke-linecap="round"/>
<path d="M1646.3 478.5 L1652.7 490.02 L1639.9 490.02 Z" fill="#7db0e0"/>
<path d="M1646.3 534 L1652.7 545.52 L1639.9 545.52 Z" fill="#7db0e0"/>
<path d="M1646.3 546.5 L1652.7 558.02 L1639.9 558.02 Z" fill="#7db0e0"/>
<line x1="1646.3" y1="503.3" x2="1646.3" y2="545.3" stroke="#000" stroke-width="2.2" stroke-linecap="butt"/>
<line x1="1629.5" y1="503.3" x2="1663.1" y2="503.3" stroke="#000" stroke-width="2.2" stroke-linecap="butt"/>
<line x1="1629.5" y1="545.3" x2="1663.1" y2="545.3" stroke="#000" stroke-width="2.2" stroke-linecap="butt"/>
<line x1="1614.1" y1="524.3" x2="1678.1" y2="524.3" stroke="#000" stroke-width="5" stroke-linecap="round"/>
<path d="M1742.6 436.7 L1749 448.22 L1736.2 448.22 Z" fill="#7db0e0"/>
<path d="M1716.8 447.9 L1723.2 459.42 L1710.4 459.42 Z" fill="#7db0e0"/>
<path d="M1769.2 444.3 L1775.6 455.82 L1762.8 455.82 Z" fill="#7db0e0"/>
<line x1="1742.6" y1="446.9" x2="1742.6" y2="450.1" stroke="#000" stroke-width="2.2" stroke-linecap="butt"/>
<line x1="1725.8" y1="446.9" x2="1759.4" y2="446.9" stroke="#000" stroke-width="2.2" stroke-linecap="butt"/>
<line x1="1725.8" y1="450.1" x2="1759.4" y2="450.1" stroke="#000" stroke-width="2.2" stroke-linecap="butt"/>
<line x1="1710.4" y1="448.5" x2="1774.4" y2="448.5" stroke="#000" stroke-width="5" stroke-linecap="round"/>
<path d="M1827.2 430.9 L1833.6 442.42 L1820.8 442.42 Z" fill="#7db0e0"/>
<path d="M1851.8 440.1 L1858.2 451.62 L1845.4 451.62 Z" fill="#7db0e0"/>
<path d="M1839.5 474.3 L1845.9 485.82 L1833.1 485.82 Z" fill="#7db0e0"/>
<line x1="1839.8" y1="441.2" x2="1839.8" y2="467" stroke="#000" stroke-width="2.2" stroke-linecap="butt"/>
<line x1="1823" y1="441.2" x2="1856.6" y2="441.2" stroke="#000" stroke-width="2.2" stroke-linecap="butt"/>
<line x1="1823" y1="467" x2="1856.6" y2="467" stroke="#000" stroke-width="2.2" stroke-linecap="butt"/>
<line x1="1807.6" y1="453.8" x2="1871.6" y2="453.8" stroke="#000" stroke-width="5" stroke-linecap="round"/>
<path d="M1924.4 449.1 L1930.8 460.62 L1918 460.62 Z" fill="#7db0e0"/>
<path d="M1924.4 466.7 L1930.8 478.22 L1918 478.22 Z" fill="#7db0e0"/>
<path d="M1949.3 463.9 L1955.7 475.42 L1942.9 475.42 Z" fill="#7db0e0"/>
<line x1="1936.8" y1="460.2" x2="1936.8" y2="468.9" stroke="#000" stroke-width="2.2" stroke-linecap="butt"/>
<line x1="1920" y1="460.2" x2="1953.6" y2="460.2" stroke="#000" stroke-width="2.2" stroke-linecap="butt"/>
<line x1="1920" y1="468.9" x2="1953.6" y2="468.9" stroke="#000" stroke-width="2.2" stroke-linecap="butt"/>
<line x1="1904.6" y1="464.7" x2="1968.6" y2="464.7" stroke="#000" stroke-width="5" stroke-linecap="round"/>
<line x1="1292.8" y1="1452.0" x2="2094" y2="1452.0" stroke="#000" stroke-width="3.3" stroke-linecap="round" stroke-dasharray="0 18.5"/>
<line x1="1293.2" y1="984.4" x2="1293.2" y2="1519" stroke="#000" stroke-width="1.3" stroke-linecap="butt"/>
<line x1="1292.6" y1="1518.4" x2="2094" y2="1518.4" stroke="#000" stroke-width="1.3" stroke-linecap="butt"/>
<line x1="1278.6" y1="1518.4" x2="1293.2" y2="1518.4" stroke="#000" stroke-width="1.3" stroke-linecap="butt"/>
<text x="1273.2" y="1528.4" font-size="27" font-weight="bold" font-style="normal" text-anchor="end" fill="#000">0</text>
<line x1="1278.6" y1="1385" x2="1293.2" y2="1385" stroke="#000" stroke-width="1.3" stroke-linecap="butt"/>
<text x="1273.2" y="1395" font-size="27" font-weight="bold" font-style="normal" text-anchor="end" fill="#000">2</text>
<line x1="1278.6" y1="1251.6" x2="1293.2" y2="1251.6" stroke="#000" stroke-width="1.3" stroke-linecap="butt"/>
<text x="1273.2" y="1261.6" font-size="27" font-weight="bold" font-style="normal" text-anchor="end" fill="#000">4</text>
<line x1="1278.6" y1="1118.2" x2="1293.2" y2="1118.2" stroke="#000" stroke-width="1.3" stroke-linecap="butt"/>
<text x="1273.2" y="1128.2" font-size="27" font-weight="bold" font-style="normal" text-anchor="end" fill="#000">6</text>
<line x1="1278.6" y1="984.8" x2="1293.2" y2="984.8" stroke="#000" stroke-width="1.3" stroke-linecap="butt"/>
<text x="1273.2" y="994.8" font-size="27" font-weight="bold" font-style="normal" text-anchor="end" fill="#000">8</text>
<text x="0" y="0" font-size="30" font-weight="bold" font-style="normal" text-anchor="middle" fill="#000" transform="translate(1235.4 1263.7) rotate(-90)">Fold change of uninfected control</text>
<g opacity="1.0">
<line x1="1305.1" y1="1423.75" x2="1305.1" y2="1485.32" stroke="#9b999d" stroke-width="2.4" stroke-linecap="butt"/>
<line x1="1296.2" y1="1423.75" x2="1314" y2="1423.75" stroke="#9b999d" stroke-width="2.4" stroke-linecap="butt"/>
<line x1="1296.2" y1="1485.32" x2="1314" y2="1485.32" stroke="#9b999d" stroke-width="2.4" stroke-linecap="butt"/>
<circle cx="1305.1" cy="1454.57" r="7.8" fill="#9b999d"/>
<line x1="1330.08" y1="1410.15" x2="1330.08" y2="1492.72" stroke="#9b999d" stroke-width="2.4" stroke-linecap="butt"/>
<line x1="1321.18" y1="1410.15" x2="1338.98" y2="1410.15" stroke="#9b999d" stroke-width="2.4" stroke-linecap="butt"/>
<line x1="1321.18" y1="1492.72" x2="1338.98" y2="1492.72" stroke="#9b999d" stroke-width="2.4" stroke-linecap="butt"/>
<circle cx="1330.08" cy="1451.57" r="7.8" fill="#9b999d"/>
<line x1="1355.07" y1="1395.67" x2="1355.07" y2="1490.19" stroke="#9b999d" stroke-width="2.4" stroke-linecap="butt"/>
<line x1="1346.17" y1="1395.67" x2="1363.97" y2="1395.67" stroke="#9b999d" stroke-width="2.4" stroke-linecap="butt"/>
<line x1="1346.17" y1="1490.19" x2="1363.97" y2="1490.19" stroke="#9b999d" stroke-width="2.4" stroke-linecap="butt"/>
<circle cx="1355.07" cy="1443.03" r="7.8" fill="#9b999d"/>
<circle cx="1380.05" cy="1442.03" r="7.8" fill="#9b999d"/>
<line x1="1405.04" y1="1454.77" x2="1405.04" y2="1480.45" stroke="#9b999d" stroke-width="2.4" stroke-linecap="butt"/>
<line x1="1396.14" y1="1454.77" x2="1413.94" y2="1454.77" stroke="#9b999d" stroke-width="2.4" stroke-linecap="butt"/>
<line x1="1396.14" y1="1480.45" x2="1413.94" y2="1480.45" stroke="#9b999d" stroke-width="2.4" stroke-linecap="butt"/>
<circle cx="1405.04" cy="1467.51" r="7.8" fill="#9b999d"/>
<line x1="1430.02" y1="1445.96" x2="1430.02" y2="1498.99" stroke="#9b999d" stroke-width="2.4" stroke-linecap="butt"/>
<line x1="1421.12" y1="1445.96" x2="1438.92" y2="1445.96" stroke="#9b999d" stroke-width="2.4" stroke-linecap="butt"/>
<line x1="1421.12" y1="1498.99" x2="1438.92" y2="1498.99" stroke="#9b999d" stroke-width="2.4" stroke-linecap="butt"/>
<circle cx="1430.02" cy="1472.58" r="7.8" fill="#9b999d"/>
<line x1="1455.01" y1="1448.37" x2="1455.01" y2="1468.64" stroke="#9b999d" stroke-width="2.4" stroke-linecap="butt"/>
<line x1="1446.11" y1="1448.37" x2="1463.91" y2="1448.37" stroke="#9b999d" stroke-width="2.4" stroke-linecap="butt"/>
<line x1="1446.11" y1="1468.64" x2="1463.91" y2="1468.64" stroke="#9b999d" stroke-width="2.4" stroke-linecap="butt"/>
<circle cx="1455.01" cy="1458.7" r="7.8" fill="#9b999d"/>
<line x1="1479.99" y1="1458.7" x2="1479.99" y2="1484.18" stroke="#9b999d" stroke-width="2.4" stroke-linecap="butt"/>
<line x1="1471.09" y1="1458.7" x2="1488.89" y2="1458.7" stroke="#9b999d" stroke-width="2.4" stroke-linecap="butt"/>
<line x1="1471.09" y1="1484.18" x2="1488.89" y2="1484.18" stroke="#9b999d" stroke-width="2.4" stroke-linecap="butt"/>
<circle cx="1479.99" cy="1471.44" r="7.8" fill="#9b999d"/>
<line x1="1504.98" y1="1459.17" x2="1504.98" y2="1515.87" stroke="#9b999d" stroke-width="2.4" stroke-linecap="butt"/>
<line x1="1496.08" y1="1459.17" x2="1513.88" y2="1459.17" stroke="#9b999d" stroke-width="2.4" stroke-linecap="butt"/>
<line x1="1496.08" y1="1515.87" x2="1513.88" y2="1515.87" stroke="#9b999d" stroke-width="2.4" stroke-linecap="butt"/>
<circle cx="1504.98" cy="1487.65" r="7.8" fill="#9b999d"/>
<line x1="1529.96" y1="1445.3" x2="1529.96" y2="1515.4" stroke="#9b999d" stroke-width="2.4" stroke-linecap="butt"/>
<line x1="1521.06" y1="1445.3" x2="1538.87" y2="1445.3" stroke="#9b999d" stroke-width="2.4" stroke-linecap="butt"/>
<line x1="1521.06" y1="1515.4" x2="1538.87" y2="1515.4" stroke="#9b999d" stroke-width="2.4" stroke-linecap="butt"/>
<circle cx="1529.96" cy="1480.71" r="7.8" fill="#9b999d"/>
<line x1="1554.95" y1="1452.23" x2="1554.95" y2="1507.73" stroke="#9b999d" stroke-width="2.4" stroke-linecap="butt"/>
<line x1="1546.05" y1="1452.23" x2="1563.85" y2="1452.23" stroke="#9b999d" stroke-width="2.4" stroke-linecap="butt"/>
<line x1="1546.05" y1="1507.73" x2="1563.85" y2="1507.73" stroke="#9b999d" stroke-width="2.4" stroke-linecap="butt"/>
<circle cx="1554.95" cy="1479.98" r="7.8" fill="#9b999d"/>
<line x1="1579.93" y1="1453.03" x2="1579.93" y2="1506.86" stroke="#9b999d" stroke-width="2.4" stroke-linecap="butt"/>
<line x1="1571.03" y1="1453.03" x2="1588.84" y2="1453.03" stroke="#9b999d" stroke-width="2.4" stroke-linecap="butt"/>
<line x1="1571.03" y1="1506.86" x2="1588.84" y2="1506.86" stroke="#9b999d" stroke-width="2.4" stroke-linecap="butt"/>
<circle cx="1579.93" cy="1479.98" r="7.8" fill="#9b999d"/>
<line x1="1604.92" y1="1375" x2="1604.92" y2="1500.12" stroke="#9b999d" stroke-width="2.4" stroke-linecap="butt"/>
<line x1="1596.02" y1="1375" x2="1613.82" y2="1375" stroke="#9b999d" stroke-width="2.4" stroke-linecap="butt"/>
<line x1="1596.02" y1="1500.12" x2="1613.82" y2="1500.12" stroke="#9b999d" stroke-width="2.4" stroke-linecap="butt"/>
<circle cx="1604.92" cy="1437.43" r="7.8" fill="#9b999d"/>
<line x1="1629.9" y1="1411.01" x2="1629.9" y2="1497.12" stroke="#9b999d" stroke-width="2.4" stroke-linecap="butt"/>
<line x1="1621" y1="1411.01" x2="1638.81" y2="1411.01" stroke="#9b999d" stroke-width="2.4" stroke-linecap="butt"/>
<line x1="1621" y1="1497.12" x2="1638.81" y2="1497.12" stroke="#9b999d" stroke-width="2.4" stroke-linecap="butt"/>
<circle cx="1629.9" cy="1454.1" r="7.8" fill="#9b999d"/>
<line x1="1654.89" y1="1438.56" x2="1654.89" y2="1493.65" stroke="#9b999d" stroke-width="2.4" stroke-linecap="butt"/>
<line x1="1645.99" y1="1438.56" x2="1663.79" y2="1438.56" stroke="#9b999d" stroke-width="2.4" stroke-linecap="butt"/>
<line x1="1645.99" y1="1493.65" x2="1663.79" y2="1493.65" stroke="#9b999d" stroke-width="2.4" stroke-linecap="butt"/>
<circle cx="1654.89" cy="1466.37" r="7.8" fill="#9b999d"/>
<line x1="1679.88" y1="1386.53" x2="1679.88" y2="1515.4" stroke="#9b999d" stroke-width="2.4" stroke-linecap="butt"/>
<line x1="1670.97" y1="1386.53" x2="1688.78" y2="1386.53" stroke="#9b999d" stroke-width="2.4" stroke-linecap="butt"/>
<line x1="1670.97" y1="1515.4" x2="1688.78" y2="1515.4" stroke="#9b999d" stroke-width="2.4" stroke-linecap="butt"/>
<circle cx="1679.88" cy="1451.3" r="7.8" fill="#9b999d"/>
<line x1="1704.86" y1="1471.91" x2="1704.86" y2="1493.19" stroke="#9b999d" stroke-width="2.4" stroke-linecap="butt"/>
<line x1="1695.96" y1="1471.91" x2="1713.76" y2="1471.91" stroke="#9b999d" stroke-width="2.4" stroke-linecap="butt"/>
<line x1="1695.96" y1="1493.19" x2="1713.76" y2="1493.19" stroke="#9b999d" stroke-width="2.4" stroke-linecap="butt"/>
<circle cx="1704.86" cy="1482.52" r="7.8" fill="#9b999d"/>
<line x1="1729.84" y1="1466.84" x2="1729.84" y2="1497.32" stroke="#9b999d" stroke-width="2.4" stroke-linecap="butt"/>
<line x1="1720.94" y1="1466.84" x2="1738.74" y2="1466.84" stroke="#9b999d" stroke-width="2.4" stroke-linecap="butt"/>
<line x1="1720.94" y1="1497.32" x2="1738.74" y2="1497.32" stroke="#9b999d" stroke-width="2.4" stroke-linecap="butt"/>
<circle cx="1729.84" cy="1481.85" r="7.8" fill="#9b999d"/>
<line x1="1754.83" y1="1422.89" x2="1754.83" y2="1494.12" stroke="#9b999d" stroke-width="2.4" stroke-linecap="butt"/>
<line x1="1745.93" y1="1422.89" x2="1763.73" y2="1422.89" stroke="#9b999d" stroke-width="2.4" stroke-linecap="butt"/>
<line x1="1745.93" y1="1494.12" x2="1763.73" y2="1494.12" stroke="#9b999d" stroke-width="2.4" stroke-linecap="butt"/>
<circle cx="1754.83" cy="1458.7" r="7.8" fill="#9b999d"/>
<line x1="1779.81" y1="1461.71" x2="1779.81" y2="1490.65" stroke="#9b999d" stroke-width="2.4" stroke-linecap="butt"/>
<line x1="1770.91" y1="1461.71" x2="1788.71" y2="1461.71" stroke="#9b999d" stroke-width="2.4" stroke-linecap="butt"/>
<line x1="1770.91" y1="1490.65" x2="1788.71" y2="1490.65" stroke="#9b999d" stroke-width="2.4" stroke-linecap="butt"/>
<circle cx="1779.81" cy="1476.51" r="7.8" fill="#9b999d"/>
<line x1="1804.8" y1="1461.71" x2="1804.8" y2="1490.65" stroke="#9b999d" stroke-width="2.4" stroke-linecap="butt"/>
<line x1="1795.9" y1="1461.71" x2="1813.7" y2="1461.71" stroke="#9b999d" stroke-width="2.4" stroke-linecap="butt"/>
<line x1="1795.9" y1="1490.65" x2="1813.7" y2="1490.65" stroke="#9b999d" stroke-width="2.4" stroke-linecap="butt"/>
<circle cx="1804.8" cy="1476.05" r="7.8" fill="#9b999d"/>
<line x1="1829.78" y1="1465.04" x2="1829.78" y2="1494.79" stroke="#9b999d" stroke-width="2.4" stroke-linecap="butt"/>
<line x1="1820.88" y1="1465.04" x2="1838.68" y2="1465.04" stroke="#9b999d" stroke-width="2.4" stroke-linecap="butt"/>
<line x1="1820.88" y1="1494.79" x2="1838.68" y2="1494.79" stroke="#9b999d" stroke-width="2.4" stroke-linecap="butt"/>
<circle cx="1829.78" cy="1479.98" r="7.8" fill="#9b999d"/>
<line x1="1854.77" y1="1461.24" x2="1854.77" y2="1490.19" stroke="#9b999d" stroke-width="2.4" stroke-linecap="butt"/>
<line x1="1845.87" y1="1461.24" x2="1863.67" y2="1461.24" stroke="#9b999d" stroke-width="2.4" stroke-linecap="butt"/>
<line x1="1845.87" y1="1490.19" x2="1863.67" y2="1490.19" stroke="#9b999d" stroke-width="2.4" stroke-linecap="butt"/>
<circle cx="1854.77" cy="1475.58" r="7.8" fill="#9b999d"/>
<line x1="1879.75" y1="1479.98" x2="1879.75" y2="1495.72" stroke="#9b999d" stroke-width="2.4" stroke-linecap="butt"/>
<line x1="1870.85" y1="1479.98" x2="1888.65" y2="1479.98" stroke="#9b999d" stroke-width="2.4" stroke-linecap="butt"/>
<line x1="1870.85" y1="1495.72" x2="1888.65" y2="1495.72" stroke="#9b999d" stroke-width="2.4" stroke-linecap="butt"/>
<circle cx="1879.75" cy="1487.65" r="7.8" fill="#9b999d"/>
<line x1="1904.74" y1="1436.76" x2="1904.74" y2="1493.19" stroke="#9b999d" stroke-width="2.4" stroke-linecap="butt"/>
<line x1="1895.84" y1="1436.76" x2="1913.64" y2="1436.76" stroke="#9b999d" stroke-width="2.4" stroke-linecap="butt"/>
<line x1="1895.84" y1="1493.19" x2="1913.64" y2="1493.19" stroke="#9b999d" stroke-width="2.4" stroke-linecap="butt"/>
<circle cx="1904.74" cy="1465.04" r="7.8" fill="#9b999d"/>
<line x1="1929.72" y1="1441.36" x2="1929.72" y2="1484.18" stroke="#9b999d" stroke-width="2.4" stroke-linecap="butt"/>
<line x1="1920.82" y1="1441.36" x2="1938.62" y2="1441.36" stroke="#9b999d" stroke-width="2.4" stroke-linecap="butt"/>
<line x1="1920.82" y1="1484.18" x2="1938.62" y2="1484.18" stroke="#9b999d" stroke-width="2.4" stroke-linecap="butt"/>
<circle cx="1929.72" cy="1462.64" r="7.8" fill="#9b999d"/>
<line x1="1954.71" y1="1453.03" x2="1954.71" y2="1482.52" stroke="#9b999d" stroke-width="2.4" stroke-linecap="butt"/>
<line x1="1945.81" y1="1453.03" x2="1963.61" y2="1453.03" stroke="#9b999d" stroke-width="2.4" stroke-linecap="butt"/>
<line x1="1945.81" y1="1482.52" x2="1963.61" y2="1482.52" stroke="#9b999d" stroke-width="2.4" stroke-linecap="butt"/>
<circle cx="1954.71" cy="1467.97" r="7.8" fill="#9b999d"/>
<line x1="1979.69" y1="1464.51" x2="1979.69" y2="1489.45" stroke="#9b999d" stroke-width="2.4" stroke-linecap="butt"/>
<line x1="1970.79" y1="1464.51" x2="1988.6" y2="1464.51" stroke="#9b999d" stroke-width="2.4" stroke-linecap="butt"/>
<line x1="1970.79" y1="1489.45" x2="1988.6" y2="1489.45" stroke="#9b999d" stroke-width="2.4" stroke-linecap="butt"/>
<circle cx="1979.69" cy="1476.98" r="7.8" fill="#9b999d"/>
<line x1="2004.68" y1="1455.24" x2="2004.68" y2="1510.33" stroke="#9b999d" stroke-width="2.4" stroke-linecap="butt"/>
<line x1="1995.78" y1="1455.24" x2="2013.58" y2="1455.24" stroke="#9b999d" stroke-width="2.4" stroke-linecap="butt"/>
<line x1="1995.78" y1="1510.33" x2="2013.58" y2="1510.33" stroke="#9b999d" stroke-width="2.4" stroke-linecap="butt"/>
<circle cx="2004.68" cy="1482.98" r="7.8" fill="#9b999d"/>
<line x1="2029.66" y1="1468.44" x2="2029.66" y2="1501.06" stroke="#9b999d" stroke-width="2.4" stroke-linecap="butt"/>
<line x1="2020.76" y1="1468.44" x2="2038.57" y2="1468.44" stroke="#9b999d" stroke-width="2.4" stroke-linecap="butt"/>
<line x1="2020.76" y1="1501.06" x2="2038.57" y2="1501.06" stroke="#9b999d" stroke-width="2.4" stroke-linecap="butt"/>
<circle cx="2029.66" cy="1484.85" r="7.8" fill="#9b999d"/>
<line x1="2054.65" y1="1444.36" x2="2054.65" y2="1477.25" stroke="#9b999d" stroke-width="2.4" stroke-linecap="butt"/>
<line x1="2045.75" y1="1444.36" x2="2063.55" y2="1444.36" stroke="#9b999d" stroke-width="2.4" stroke-linecap="butt"/>
<line x1="2045.75" y1="1477.25" x2="2063.55" y2="1477.25" stroke="#9b999d" stroke-width="2.4" stroke-linecap="butt"/>
<circle cx="2054.65" cy="1461.04" r="7.8" fill="#9b999d"/>
<line x1="2079.63" y1="1436.76" x2="2079.63" y2="1494.12" stroke="#9b999d" stroke-width="2.4" stroke-linecap="butt"/>
<line x1="2070.73" y1="1436.76" x2="2088.53" y2="1436.76" stroke="#9b999d" stroke-width="2.4" stroke-linecap="butt"/>
<line x1="2070.73" y1="1494.12" x2="2088.53" y2="1494.12" stroke="#9b999d" stroke-width="2.4" stroke-linecap="butt"/>
<circle cx="2079.63" cy="1465.71" r="7.8" fill="#9b999d"/>
</g>
<g opacity="0.8">
<line x1="1305.1" y1="1361.99" x2="1305.1" y2="1381.67" stroke="#5d9cd8" stroke-width="2.4" stroke-linecap="butt"/>
<line x1="1296.2" y1="1361.99" x2="1314" y2="1361.99" stroke="#5d9cd8" stroke-width="2.4" stroke-linecap="butt"/>
<line x1="1296.2" y1="1381.67" x2="1314" y2="1381.67" stroke="#5d9cd8" stroke-width="2.4" stroke-linecap="butt"/>
<circle cx="1305.1" cy="1371.66" r="7.8" fill="#5d9cd8"/>
<line x1="1330.08" y1="1227.12" x2="1330.08" y2="1466.84" stroke="#5d9cd8" stroke-width="2.4" stroke-linecap="butt"/>
<line x1="1321.18" y1="1227.12" x2="1338.98" y2="1227.12" stroke="#5d9cd8" stroke-width="2.4" stroke-linecap="butt"/>
<line x1="1321.18" y1="1466.84" x2="1338.98" y2="1466.84" stroke="#5d9cd8" stroke-width="2.4" stroke-linecap="butt"/>
<circle cx="1330.08" cy="1346.98" r="7.8" fill="#5d9cd8"/>
<line x1="1355.07" y1="1365.92" x2="1355.07" y2="1421.22" stroke="#5d9cd8" stroke-width="2.4" stroke-linecap="butt"/>
<line x1="1346.17" y1="1365.92" x2="1363.97" y2="1365.92" stroke="#5d9cd8" stroke-width="2.4" stroke-linecap="butt"/>
<line x1="1346.17" y1="1421.22" x2="1363.97" y2="1421.22" stroke="#5d9cd8" stroke-width="2.4" stroke-linecap="butt"/>
<circle cx="1355.07" cy="1393.27" r="7.8" fill="#5d9cd8"/>
<line x1="1380.05" y1="1360.59" x2="1380.05" y2="1439.69" stroke="#5d9cd8" stroke-width="2.4" stroke-linecap="butt"/>
<line x1="1371.15" y1="1360.59" x2="1388.95" y2="1360.59" stroke="#5d9cd8" stroke-width="2.4" stroke-linecap="butt"/>
<line x1="1371.15" y1="1439.69" x2="1388.95" y2="1439.69" stroke="#5d9cd8" stroke-width="2.4" stroke-linecap="butt"/>
<circle cx="1380.05" cy="1399.94" r="7.8" fill="#5d9cd8"/>
<line x1="1405.04" y1="1397.41" x2="1405.04" y2="1453.03" stroke="#5d9cd8" stroke-width="2.4" stroke-linecap="butt"/>
<line x1="1396.14" y1="1397.41" x2="1413.94" y2="1397.41" stroke="#5d9cd8" stroke-width="2.4" stroke-linecap="butt"/>
<line x1="1396.14" y1="1453.03" x2="1413.94" y2="1453.03" stroke="#5d9cd8" stroke-width="2.4" stroke-linecap="butt"/>
<circle cx="1405.04" cy="1424.69" r="7.8" fill="#5d9cd8"/>
<line x1="1430.02" y1="1409.01" x2="1430.02" y2="1471.71" stroke="#5d9cd8" stroke-width="2.4" stroke-linecap="butt"/>
<line x1="1421.12" y1="1409.01" x2="1438.92" y2="1409.01" stroke="#5d9cd8" stroke-width="2.4" stroke-linecap="butt"/>
<line x1="1421.12" y1="1471.71" x2="1438.92" y2="1471.71" stroke="#5d9cd8" stroke-width="2.4" stroke-linecap="butt"/>
<circle cx="1430.02" cy="1440.69" r="7.8" fill="#5d9cd8"/>
<line x1="1455.01" y1="1421.69" x2="1455.01" y2="1449.7" stroke="#5d9cd8" stroke-width="2.4" stroke-linecap="butt"/>
<line x1="1446.11" y1="1421.69" x2="1463.91" y2="1421.69" stroke="#5d9cd8" stroke-width="2.4" stroke-linecap="butt"/>
<line x1="1446.11" y1="1449.7" x2="1463.91" y2="1449.7" stroke="#5d9cd8" stroke-width="2.4" stroke-linecap="butt"/>
<circle cx="1455.01" cy="1436.03" r="7.8" fill="#5d9cd8"/>
<line x1="1479.99" y1="1390.67" x2="1479.99" y2="1444.36" stroke="#5d9cd8" stroke-width="2.4" stroke-linecap="butt"/>
<line x1="1471.09" y1="1390.67" x2="1488.89" y2="1390.67" stroke="#5d9cd8" stroke-width="2.4" stroke-linecap="butt"/>
<line x1="1471.09" y1="1444.36" x2="1488.89" y2="1444.36" stroke="#5d9cd8" stroke-width="2.4" stroke-linecap="butt"/>
<circle cx="1479.99" cy="1417.55" r="7.8" fill="#5d9cd8"/>
<line x1="1504.98" y1="1225.59" x2="1504.98" y2="1424.49" stroke="#5d9cd8" stroke-width="2.4" stroke-linecap="butt"/>
<line x1="1496.08" y1="1225.59" x2="1513.88" y2="1225.59" stroke="#5d9cd8" stroke-width="2.4" stroke-linecap="butt"/>
<line x1="1496.08" y1="1424.49" x2="1513.88" y2="1424.49" stroke="#5d9cd8" stroke-width="2.4" stroke-linecap="butt"/>
<circle cx="1504.98" cy="1325.24" r="7.8" fill="#5d9cd8"/>
<line x1="1529.96" y1="1197.04" x2="1529.96" y2="1437.23" stroke="#5d9cd8" stroke-width="2.4" stroke-linecap="butt"/>
<line x1="1521.06" y1="1197.04" x2="1538.87" y2="1197.04" stroke="#5d9cd8" stroke-width="2.4" stroke-linecap="butt"/>
<line x1="1521.06" y1="1437.23" x2="1538.87" y2="1437.23" stroke="#5d9cd8" stroke-width="2.4" stroke-linecap="butt"/>
<circle cx="1529.96" cy="1317.63" r="7.8" fill="#5d9cd8"/>
<line x1="1554.95" y1="1228.92" x2="1554.95" y2="1428.62" stroke="#5d9cd8" stroke-width="2.4" stroke-linecap="butt"/>
<line x1="1546.05" y1="1228.92" x2="1563.85" y2="1228.92" stroke="#5d9cd8" stroke-width="2.4" stroke-linecap="butt"/>
<line x1="1546.05" y1="1428.62" x2="1563.85" y2="1428.62" stroke="#5d9cd8" stroke-width="2.4" stroke-linecap="butt"/>
<circle cx="1554.95" cy="1329.17" r="7.8" fill="#5d9cd8"/>
<line x1="1579.93" y1="1252.93" x2="1579.93" y2="1478.38" stroke="#5d9cd8" stroke-width="2.4" stroke-linecap="butt"/>
<line x1="1571.03" y1="1252.93" x2="1588.84" y2="1252.93" stroke="#5d9cd8" stroke-width="2.4" stroke-linecap="butt"/>
<line x1="1571.03" y1="1478.38" x2="1588.84" y2="1478.38" stroke="#5d9cd8" stroke-width="2.4" stroke-linecap="butt"/>
<circle cx="1579.93" cy="1364.99" r="7.8" fill="#5d9cd8"/>
<line x1="1604.92" y1="1311.63" x2="1604.92" y2="1412.35" stroke="#5d9cd8" stroke-width="2.4" stroke-linecap="butt"/>
<line x1="1596.02" y1="1311.63" x2="1613.82" y2="1311.63" stroke="#5d9cd8" stroke-width="2.4" stroke-linecap="butt"/>
<line x1="1596.02" y1="1412.35" x2="1613.82" y2="1412.35" stroke="#5d9cd8" stroke-width="2.4" stroke-linecap="butt"/>
<circle cx="1604.92" cy="1361.99" r="7.8" fill="#5d9cd8"/>
<line x1="1629.9" y1="1393.94" x2="1629.9" y2="1437.43" stroke="#5d9cd8" stroke-width="2.4" stroke-linecap="butt"/>
<line x1="1621" y1="1393.94" x2="1638.81" y2="1393.94" stroke="#5d9cd8" stroke-width="2.4" stroke-linecap="butt"/>
<line x1="1621" y1="1437.43" x2="1638.81" y2="1437.43" stroke="#5d9cd8" stroke-width="2.4" stroke-linecap="butt"/>
<circle cx="1629.9" cy="1415.88" r="7.8" fill="#5d9cd8"/>
<line x1="1654.89" y1="1367.32" x2="1654.89" y2="1415.48" stroke="#5d9cd8" stroke-width="2.4" stroke-linecap="butt"/>
<line x1="1645.99" y1="1367.32" x2="1663.79" y2="1367.32" stroke="#5d9cd8" stroke-width="2.4" stroke-linecap="butt"/>
<line x1="1645.99" y1="1415.48" x2="1663.79" y2="1415.48" stroke="#5d9cd8" stroke-width="2.4" stroke-linecap="butt"/>
<circle cx="1654.89" cy="1391.14" r="7.8" fill="#5d9cd8"/>
<line x1="1679.88" y1="1376.6" x2="1679.88" y2="1442.03" stroke="#5d9cd8" stroke-width="2.4" stroke-linecap="butt"/>
<line x1="1670.97" y1="1376.6" x2="1688.78" y2="1376.6" stroke="#5d9cd8" stroke-width="2.4" stroke-linecap="butt"/>
<line x1="1670.97" y1="1442.03" x2="1688.78" y2="1442.03" stroke="#5d9cd8" stroke-width="2.4" stroke-linecap="butt"/>
<circle cx="1679.88" cy="1409.21" r="7.8" fill="#5d9cd8"/>
<line x1="1704.86" y1="1375" x2="1704.86" y2="1466.37" stroke="#5d9cd8" stroke-width="2.4" stroke-linecap="butt"/>
<line x1="1695.96" y1="1375" x2="1713.76" y2="1375" stroke="#5d9cd8" stroke-width="2.4" stroke-linecap="butt"/>
<line x1="1695.96" y1="1466.37" x2="1713.76" y2="1466.37" stroke="#5d9cd8" stroke-width="2.4" stroke-linecap="butt"/>
<circle cx="1704.86" cy="1420.55" r="7.8" fill="#5d9cd8"/>
<line x1="1729.84" y1="1350.32" x2="1729.84" y2="1476.78" stroke="#5d9cd8" stroke-width="2.4" stroke-linecap="butt"/>
<line x1="1720.94" y1="1350.32" x2="1738.74" y2="1350.32" stroke="#5d9cd8" stroke-width="2.4" stroke-linecap="butt"/>
<line x1="1720.94" y1="1476.78" x2="1738.74" y2="1476.78" stroke="#5d9cd8" stroke-width="2.4" stroke-linecap="butt"/>
<circle cx="1729.84" cy="1413.15" r="7.8" fill="#5d9cd8"/>
<line x1="1754.83" y1="1443.03" x2="1754.83" y2="1467.24" stroke="#5d9cd8" stroke-width="2.4" stroke-linecap="butt"/>
<line x1="1745.93" y1="1443.03" x2="1763.73" y2="1443.03" stroke="#5d9cd8" stroke-width="2.4" stroke-linecap="butt"/>
<line x1="1745.93" y1="1467.24" x2="1763.73" y2="1467.24" stroke="#5d9cd8" stroke-width="2.4" stroke-linecap="butt"/>
<circle cx="1754.83" cy="1455.24" r="7.8" fill="#5d9cd8"/>
<line x1="1779.81" y1="1347.91" x2="1779.81" y2="1484.85" stroke="#5d9cd8" stroke-width="2.4" stroke-linecap="butt"/>
<line x1="1770.91" y1="1347.91" x2="1788.71" y2="1347.91" stroke="#5d9cd8" stroke-width="2.4" stroke-linecap="butt"/>
<line x1="1770.91" y1="1484.85" x2="1788.71" y2="1484.85" stroke="#5d9cd8" stroke-width="2.4" stroke-linecap="butt"/>
<circle cx="1779.81" cy="1416.35" r="7.8" fill="#5d9cd8"/>
<line x1="1804.8" y1="1334.04" x2="1804.8" y2="1393.67" stroke="#5d9cd8" stroke-width="2.4" stroke-linecap="butt"/>
<line x1="1795.9" y1="1334.04" x2="1813.7" y2="1334.04" stroke="#5d9cd8" stroke-width="2.4" stroke-linecap="butt"/>
<line x1="1795.9" y1="1393.67" x2="1813.7" y2="1393.67" stroke="#5d9cd8" stroke-width="2.4" stroke-linecap="butt"/>
<circle cx="1804.8" cy="1363.86" r="7.8" fill="#5d9cd8"/>
<line x1="1829.78" y1="1322.7" x2="1829.78" y2="1394.6" stroke="#5d9cd8" stroke-width="2.4" stroke-linecap="butt"/>
<line x1="1820.88" y1="1322.7" x2="1838.68" y2="1322.7" stroke="#5d9cd8" stroke-width="2.4" stroke-linecap="butt"/>
<line x1="1820.88" y1="1394.6" x2="1838.68" y2="1394.6" stroke="#5d9cd8" stroke-width="2.4" stroke-linecap="butt"/>
<circle cx="1829.78" cy="1358.52" r="7.8" fill="#5d9cd8"/>
<line x1="1854.77" y1="1395.81" x2="1854.77" y2="1413.61" stroke="#5d9cd8" stroke-width="2.4" stroke-linecap="butt"/>
<line x1="1845.87" y1="1395.81" x2="1863.67" y2="1395.81" stroke="#5d9cd8" stroke-width="2.4" stroke-linecap="butt"/>
<line x1="1845.87" y1="1413.61" x2="1863.67" y2="1413.61" stroke="#5d9cd8" stroke-width="2.4" stroke-linecap="butt"/>
<circle cx="1854.77" cy="1404.54" r="7.8" fill="#5d9cd8"/>
<line x1="1879.75" y1="1390.34" x2="1879.75" y2="1433.69" stroke="#5d9cd8" stroke-width="2.4" stroke-linecap="butt"/>
<line x1="1870.85" y1="1390.34" x2="1888.65" y2="1390.34" stroke="#5d9cd8" stroke-width="2.4" stroke-linecap="butt"/>
<line x1="1870.85" y1="1433.69" x2="1888.65" y2="1433.69" stroke="#5d9cd8" stroke-width="2.4" stroke-linecap="butt"/>
<circle cx="1879.75" cy="1411.75" r="7.8" fill="#5d9cd8"/>
<line x1="1904.74" y1="1410.81" x2="1904.74" y2="1432.09" stroke="#5d9cd8" stroke-width="2.4" stroke-linecap="butt"/>
<line x1="1895.84" y1="1410.81" x2="1913.64" y2="1410.81" stroke="#5d9cd8" stroke-width="2.4" stroke-linecap="butt"/>
<line x1="1895.84" y1="1432.09" x2="1913.64" y2="1432.09" stroke="#5d9cd8" stroke-width="2.4" stroke-linecap="butt"/>
<circle cx="1904.74" cy="1421.95" r="7.8" fill="#5d9cd8"/>
<line x1="1929.72" y1="1397.41" x2="1929.72" y2="1471.91" stroke="#5d9cd8" stroke-width="2.4" stroke-linecap="butt"/>
<line x1="1920.82" y1="1397.41" x2="1938.62" y2="1397.41" stroke="#5d9cd8" stroke-width="2.4" stroke-linecap="butt"/>
<line x1="1920.82" y1="1471.91" x2="1938.62" y2="1471.91" stroke="#5d9cd8" stroke-width="2.4" stroke-linecap="butt"/>
<circle cx="1929.72" cy="1434.42" r="7.8" fill="#5d9cd8"/>
<circle cx="1954.71" cy="1443.23" r="7.8" fill="#5d9cd8"/>
<line x1="1979.69" y1="1420.75" x2="1979.69" y2="1447.63" stroke="#5d9cd8" stroke-width="2.4" stroke-linecap="butt"/>
<line x1="1970.79" y1="1420.75" x2="1988.6" y2="1420.75" stroke="#5d9cd8" stroke-width="2.4" stroke-linecap="butt"/>
<line x1="1970.79" y1="1447.63" x2="1988.6" y2="1447.63" stroke="#5d9cd8" stroke-width="2.4" stroke-linecap="butt"/>
<circle cx="1979.69" cy="1433.96" r="7.8" fill="#5d9cd8"/>
<line x1="2004.68" y1="1417.55" x2="2004.68" y2="1436.29" stroke="#5d9cd8" stroke-width="2.4" stroke-linecap="butt"/>
<line x1="1995.78" y1="1417.55" x2="2013.58" y2="1417.55" stroke="#5d9cd8" stroke-width="2.4" stroke-linecap="butt"/>
<line x1="1995.78" y1="1436.29" x2="2013.58" y2="1436.29" stroke="#5d9cd8" stroke-width="2.4" stroke-linecap="butt"/>
<circle cx="2004.68" cy="1427.02" r="7.8" fill="#5d9cd8"/>
<line x1="2029.66" y1="1089.25" x2="2029.66" y2="1350.18" stroke="#5d9cd8" stroke-width="2.4" stroke-linecap="butt"/>
<line x1="2020.76" y1="1089.25" x2="2038.57" y2="1089.25" stroke="#5d9cd8" stroke-width="2.4" stroke-linecap="butt"/>
<line x1="2020.76" y1="1350.18" x2="2038.57" y2="1350.18" stroke="#5d9cd8" stroke-width="2.4" stroke-linecap="butt"/>
<circle cx="2029.66" cy="1219.72" r="7.8" fill="#5d9cd8"/>
<line x1="2054.65" y1="1325.7" x2="2054.65" y2="1354.12" stroke="#5d9cd8" stroke-width="2.4" stroke-linecap="butt"/>
<line x1="2045.75" y1="1325.7" x2="2063.55" y2="1325.7" stroke="#5d9cd8" stroke-width="2.4" stroke-linecap="butt"/>
<line x1="2045.75" y1="1354.12" x2="2063.55" y2="1354.12" stroke="#5d9cd8" stroke-width="2.4" stroke-linecap="butt"/>
<circle cx="2054.65" cy="1340.04" r="7.8" fill="#5d9cd8"/>
<line x1="2079.63" y1="1032.49" x2="2079.63" y2="1346.71" stroke="#5d9cd8" stroke-width="2.4" stroke-linecap="butt"/>
<line x1="2070.73" y1="1032.49" x2="2088.53" y2="1032.49" stroke="#5d9cd8" stroke-width="2.4" stroke-linecap="butt"/>
<line x1="2070.73" y1="1346.71" x2="2088.53" y2="1346.71" stroke="#5d9cd8" stroke-width="2.4" stroke-linecap="butt"/>
<circle cx="2079.63" cy="1189.9" r="7.8" fill="#5d9cd8"/>
</g>
<line x1="1305.1" y1="1518.4" x2="1305.1" y2="1531.7" stroke="#000" stroke-width="1.3" stroke-linecap="butt"/>
<text x="0" y="0" font-size="25.5" font-weight="bold" font-style="normal" text-anchor="end" fill="#000" transform="translate(1312.5 1534.8) rotate(-90)">calb</text>
<line x1="1330.08" y1="1518.4" x2="1330.08" y2="1531.7" stroke="#000" stroke-width="1.3" stroke-linecap="butt"/>
<text x="0" y="0" font-size="25.5" font-weight="bold" font-style="normal" text-anchor="end" fill="#000" transform="translate(1337.48 1534.8) rotate(-90)">cglab</text>
<line x1="1355.07" y1="1518.4" x2="1355.07" y2="1531.7" stroke="#000" stroke-width="1.3" stroke-linecap="butt"/>
<text x="0" y="0" font-size="25.5" font-weight="bold" font-style="normal" text-anchor="end" fill="#000" transform="translate(1362.47 1534.8) rotate(-90)">cpar</text>
<line x1="1380.05" y1="1518.4" x2="1380.05" y2="1531.7" stroke="#000" stroke-width="1.3" stroke-linecap="butt"/>
<text x="0" y="0" font-size="25.5" font-weight="bold" font-style="normal" text-anchor="end" fill="#000" transform="translate(1387.45 1534.8) rotate(-90)">ctrop</text>
<line x1="1405.04" y1="1518.4" x2="1405.04" y2="1531.7" stroke="#000" stroke-width="1.3" stroke-linecap="butt"/>
<text x="0" y="0" font-size="25.5" font-weight="bold" font-style="normal" text-anchor="end" fill="#000" transform="translate(1412.44 1534.8) rotate(-90)">calb</text>
<line x1="1430.02" y1="1518.4" x2="1430.02" y2="1531.7" stroke="#000" stroke-width="1.3" stroke-linecap="butt"/>
<text x="0" y="0" font-size="25.5" font-weight="bold" font-style="normal" text-anchor="end" fill="#000" transform="translate(1437.42 1534.8) rotate(-90)">cglab</text>
<line x1="1455.01" y1="1518.4" x2="1455.01" y2="1531.7" stroke="#000" stroke-width="1.3" stroke-linecap="butt"/>
<text x="0" y="0" font-size="25.5" font-weight="bold" font-style="normal" text-anchor="end" fill="#000" transform="translate(1462.41 1534.8) rotate(-90)">cpar</text>
<line x1="1479.99" y1="1518.4" x2="1479.99" y2="1531.7" stroke="#000" stroke-width="1.3" stroke-linecap="butt"/>
<text x="0" y="0" font-size="25.5" font-weight="bold" font-style="normal" text-anchor="end" fill="#000" transform="translate(1487.39 1534.8) rotate(-90)">ctrop</text>
<line x1="1504.98" y1="1518.4" x2="1504.98" y2="1531.7" stroke="#000" stroke-width="1.3" stroke-linecap="butt"/>
<text x="0" y="0" font-size="25.5" font-weight="bold" font-style="normal" text-anchor="end" fill="#000" transform="translate(1512.38 1534.8) rotate(-90)">calb</text>
<line x1="1529.96" y1="1518.4" x2="1529.96" y2="1531.7" stroke="#000" stroke-width="1.3" stroke-linecap="butt"/>
<text x="0" y="0" font-size="25.5" font-weight="bold" font-style="normal" text-anchor="end" fill="#000" transform="translate(1537.37 1534.8) rotate(-90)">cglab</text>
<line x1="1554.95" y1="1518.4" x2="1554.95" y2="1531.7" stroke="#000" stroke-width="1.3" stroke-linecap="butt"/>
<text x="0" y="0" font-size="25.5" font-weight="bold" font-style="normal" text-anchor="end" fill="#000" transform="translate(1562.35 1534.8) rotate(-90)">cpar</text>
<line x1="1579.93" y1="1518.4" x2="1579.93" y2="1531.7" stroke="#000" stroke-width="1.3" stroke-linecap="butt"/>
<text x="0" y="0" font-size="25.5" font-weight="bold" font-style="normal" text-anchor="end" fill="#000" transform="translate(1587.34 1534.8) rotate(-90)">ctrop</text>
<line x1="1604.92" y1="1518.4" x2="1604.92" y2="1531.7" stroke="#000" stroke-width="1.3" stroke-linecap="butt"/>
<text x="0" y="0" font-size="25.5" font-weight="bold" font-style="normal" text-anchor="end" fill="#000" transform="translate(1612.32 1534.8) rotate(-90)">calb</text>
<line x1="1629.9" y1="1518.4" x2="1629.9" y2="1531.7" stroke="#000" stroke-width="1.3" stroke-linecap="butt"/>
<text x="0" y="0" font-size="25.5" font-weight="bold" font-style="normal" text-anchor="end" fill="#000" transform="translate(1637.31 1534.8) rotate(-90)">cglab</text>
<line x1="1654.89" y1="1518.4" x2="1654.89" y2="1531.7" stroke="#000" stroke-width="1.3" stroke-linecap="butt"/>
<text x="0" y="0" font-size="25.5" font-weight="bold" font-style="normal" text-anchor="end" fill="#000" transform="translate(1662.29 1534.8) rotate(-90)">cpar</text>
<line x1="1679.88" y1="1518.4" x2="1679.88" y2="1531.7" stroke="#000" stroke-width="1.3" stroke-linecap="butt"/>
<text x="0" y="0" font-size="25.5" font-weight="bold" font-style="normal" text-anchor="end" fill="#000" transform="translate(1687.28 1534.8) rotate(-90)">ctrop</text>
<line x1="1704.86" y1="1518.4" x2="1704.86" y2="1531.7" stroke="#000" stroke-width="1.3" stroke-linecap="butt"/>
<text x="0" y="0" font-size="25.5" font-weight="bold" font-style="normal" text-anchor="end" fill="#000" transform="translate(1712.26 1534.8) rotate(-90)">calb</text>
<line x1="1729.84" y1="1518.4" x2="1729.84" y2="1531.7" stroke="#000" stroke-width="1.3" stroke-linecap="butt"/>
<text x="0" y="0" font-size="25.5" font-weight="bold" font-style="normal" text-anchor="end" fill="#000" transform="translate(1737.24 1534.8) rotate(-90)">cglab</text>
<line x1="1754.83" y1="1518.4" x2="1754.83" y2="1531.7" stroke="#000" stroke-width="1.3" stroke-linecap="butt"/>
<text x="0" y="0" font-size="25.5" font-weight="bold" font-style="normal" text-anchor="end" fill="#000" transform="translate(1762.23 1534.8) rotate(-90)">cpar</text>
<line x1="1779.81" y1="1518.4" x2="1779.81" y2="1531.7" stroke="#000" stroke-width="1.3" stroke-linecap="butt"/>
<text x="0" y="0" font-size="25.5" font-weight="bold" font-style="normal" text-anchor="end" fill="#000" transform="translate(1787.21 1534.8) rotate(-90)">ctrop</text>
<line x1="1804.8" y1="1518.4" x2="1804.8" y2="1531.7" stroke="#000" stroke-width="1.3" stroke-linecap="butt"/>
<text x="0" y="0" font-size="25.5" font-weight="bold" font-style="normal" text-anchor="end" fill="#000" transform="translate(1812.2 1534.8) rotate(-90)">calb</text>
<line x1="1829.78" y1="1518.4" x2="1829.78" y2="1531.7" stroke="#000" stroke-width="1.3" stroke-linecap="butt"/>
<text x="0" y="0" font-size="25.5" font-weight="bold" font-style="normal" text-anchor="end" fill="#000" transform="translate(1837.18 1534.8) rotate(-90)">cglab</text>
<line x1="1854.77" y1="1518.4" x2="1854.77" y2="1531.7" stroke="#000" stroke-width="1.3" stroke-linecap="butt"/>
<text x="0" y="0" font-size="25.5" font-weight="bold" font-style="normal" text-anchor="end" fill="#000" transform="translate(1862.17 1534.8) rotate(-90)">cpar</text>
<line x1="1879.75" y1="1518.4" x2="1879.75" y2="1531.7" stroke="#000" stroke-width="1.3" stroke-linecap="butt"/>
<text x="0" y="0" font-size="25.5" font-weight="bold" font-style="normal" text-anchor="end" fill="#000" transform="translate(1887.15 1534.8) rotate(-90)">ctrop</text>
<line x1="1904.74" y1="1518.4" x2="1904.74" y2="1531.7" stroke="#000" stroke-width="1.3" stroke-linecap="butt"/>
<text x="0" y="0" font-size="25.5" font-weight="bold" font-style="normal" text-anchor="end" fill="#000" transform="translate(1912.14 1534.8) rotate(-90)">calb</text>
<line x1="1929.72" y1="1518.4" x2="1929.72" y2="1531.7" stroke="#000" stroke-width="1.3" stroke-linecap="butt"/>
<text x="0" y="0" font-size="25.5" font-weight="bold" font-style="normal" text-anchor="end" fill="#000" transform="translate(1937.12 1534.8) rotate(-90)">cglab</text>
<line x1="1954.71" y1="1518.4" x2="1954.71" y2="1531.7" stroke="#000" stroke-width="1.3" stroke-linecap="butt"/>
<text x="0" y="0" font-size="25.5" font-weight="bold" font-style="normal" text-anchor="end" fill="#000" transform="translate(1962.11 1534.8) rotate(-90)">cpar</text>
<line x1="1979.69" y1="1518.4" x2="1979.69" y2="1531.7" stroke="#000" stroke-width="1.3" stroke-linecap="butt"/>
<text x="0" y="0" font-size="25.5" font-weight="bold" font-style="normal" text-anchor="end" fill="#000" transform="translate(1987.1 1534.8) rotate(-90)">ctrop</text>
<line x1="2004.68" y1="1518.4" x2="2004.68" y2="1531.7" stroke="#000" stroke-width="1.3" stroke-linecap="butt"/>
<text x="0" y="0" font-size="25.5" font-weight="bold" font-style="normal" text-anchor="end" fill="#000" transform="translate(2012.08 1534.8) rotate(-90)">calb</text>
<line x1="2029.66" y1="1518.4" x2="2029.66" y2="1531.7" stroke="#000" stroke-width="1.3" stroke-linecap="butt"/>
<text x="0" y="0" font-size="25.5" font-weight="bold" font-style="normal" text-anchor="end" fill="#000" transform="translate(2037.07 1534.8) rotate(-90)">cglab</text>
<line x1="2054.65" y1="1518.4" x2="2054.65" y2="1531.7" stroke="#000" stroke-width="1.3" stroke-linecap="butt"/>
<text x="0" y="0" font-size="25.5" font-weight="bold" font-style="normal" text-anchor="end" fill="#000" transform="translate(2062.05 1534.8) rotate(-90)">cpar</text>
<line x1="2079.63" y1="1518.4" x2="2079.63" y2="1531.7" stroke="#000" stroke-width="1.3" stroke-linecap="butt"/>
<text x="0" y="0" font-size="25.5" font-weight="bold" font-style="normal" text-anchor="end" fill="#000" transform="translate(2087.03 1534.8) rotate(-90)">ctrop</text>
<line x1="1296.8" y1="1611.3" x2="1383" y2="1611.3" stroke="#000" stroke-width="5.3" stroke-linecap="round"/>
<line x1="1401.6" y1="1611.3" x2="1487.7" y2="1611.3" stroke="#000" stroke-width="5.3" stroke-linecap="round"/>
<line x1="1502.6" y1="1611.3" x2="1588.4" y2="1611.3" stroke="#000" stroke-width="5.3" stroke-linecap="round"/>
<line x1="1602.2" y1="1611.3" x2="1688.4" y2="1611.3" stroke="#000" stroke-width="5.3" stroke-linecap="round"/>
<line x1="1701.9" y1="1611.3" x2="1787.7" y2="1611.3" stroke="#000" stroke-width="5.3" stroke-linecap="round"/>
<line x1="1803.2" y1="1611.3" x2="1888.9" y2="1611.3" stroke="#000" stroke-width="5.3" stroke-linecap="round"/>
<line x1="1903.8" y1="1611.3" x2="1989.5" y2="1611.3" stroke="#000" stroke-width="5.3" stroke-linecap="round"/>
<line x1="2003.4" y1="1611.3" x2="2089.5" y2="1611.3" stroke="#000" stroke-width="5.3" stroke-linecap="round"/>
<text x="1346.5" y="1642.6" font-size="22.4" font-weight="bold" font-style="italic" text-anchor="middle" fill="#000">IFI6</text>
<text x="1445.5" y="1642.6" font-size="22.4" font-weight="bold" font-style="italic" text-anchor="middle" fill="#000">RSAD2</text>
<text x="1553.6" y="1642.6" font-size="22.4" font-weight="bold" font-style="italic" text-anchor="middle" fill="#000">OASL</text>
<text x="1646" y="1642.6" font-size="22.4" font-weight="bold" font-style="italic" text-anchor="middle" fill="#000">IRF9</text>
<text x="1744.9" y="1642.6" font-size="22.4" font-weight="bold" font-style="italic" text-anchor="middle" fill="#000">MX2</text>
<text x="1843.9" y="1642.6" font-size="22.4" font-weight="bold" font-style="italic" text-anchor="middle" fill="#000">ISG15</text>
<text x="1942.7" y="1642.6" font-size="22.4" font-weight="bold" font-style="italic" text-anchor="middle" fill="#000">ZBP1</text>
<text x="2044.1" y="1642.6" font-size="22.4" font-weight="bold" font-style="italic" text-anchor="middle" fill="#000">IFI44</text>
<circle cx="1504.2" cy="1065.8" r="8.0" fill="#7db0e0"/>
<circle cx="1505.4" cy="1104.8" r="8.0" fill="#9b999d"/>
<text x="1530.2" y="1078" font-size="29.2" font-weight="normal" font-style="normal" text-anchor="start" fill="#000">infection</text>
<text x="1529" y="1115.6" font-size="29.2" font-weight="normal" font-style="normal" text-anchor="start" fill="#000">infection with induced apopotosis</text>
<text x="2023.95" y="1006.8" font-size="24.4" font-weight="normal" font-style="normal" text-anchor="middle" fill="#000" letter-spacing="1.5" stroke="#000" stroke-width="0.4">*</text>
<text x="2053.25" y="1006.8" font-size="24.4" font-weight="normal" font-style="normal" text-anchor="middle" fill="#000" letter-spacing="1.5" stroke="#000" stroke-width="0.4">*</text>
<text x="2079.85" y="1006.8" font-size="24.4" font-weight="normal" font-style="normal" text-anchor="middle" fill="#000" letter-spacing="1.5" stroke="#000" stroke-width="0.4">**</text>
</svg>
</body>
</html>
